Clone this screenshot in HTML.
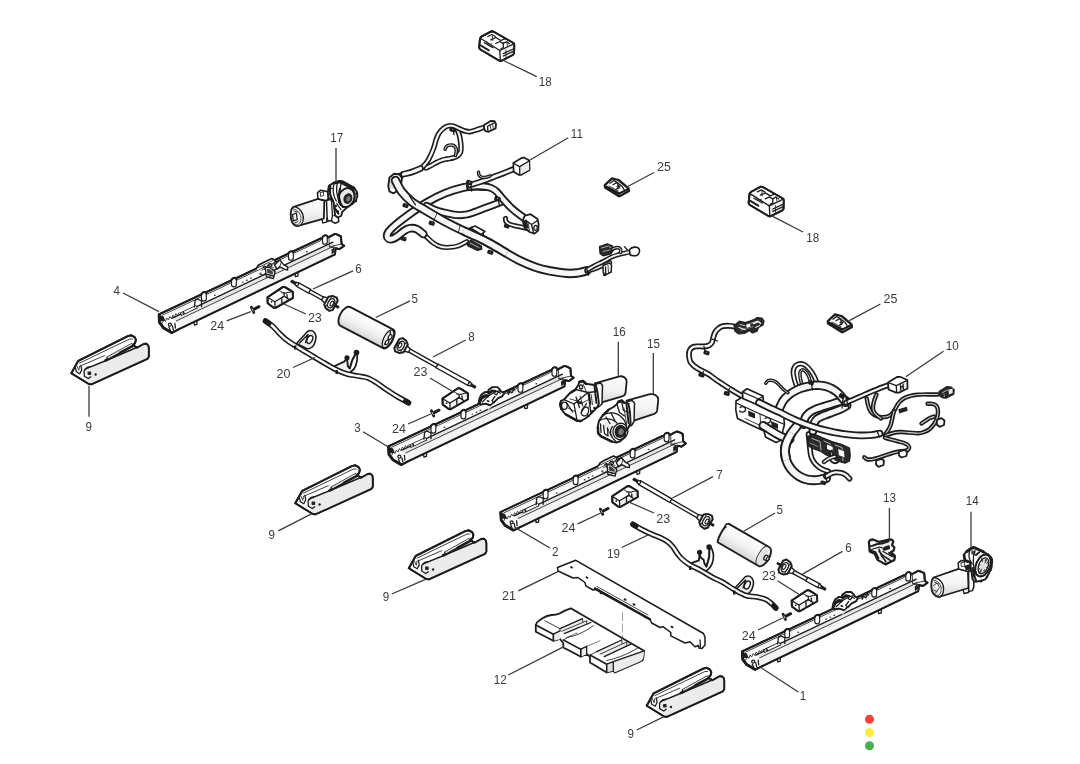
<!DOCTYPE html>
<html><head><meta charset="utf-8"><title>Parts diagram</title>
<style>
html,body{margin:0;padding:0;background:#fff;}
body{width:1080px;height:764px;overflow:hidden;font-family:"Liberation Sans",sans-serif;}
svg{display:block;will-change:transform;}
.o{fill:#fff;stroke:#1c1c1c;stroke-width:1.9;stroke-linejoin:round;stroke-linecap:round;}
.og{fill:#ececec;stroke:#1c1c1c;stroke-width:1.9;stroke-linejoin:round;stroke-linecap:round;}
.od{fill:#2a2a2a;stroke:#1c1c1c;stroke-width:1.2;stroke-linejoin:round;}
.m{fill:#fff;stroke:#1c1c1c;stroke-width:1.3;stroke-linejoin:round;stroke-linecap:round;}
.mg{fill:#e9e9e9;stroke:#1c1c1c;stroke-width:1.3;stroke-linejoin:round;stroke-linecap:round;}
.t{fill:none;stroke:#2b2b2b;stroke-width:0.9;stroke-linejoin:round;stroke-linecap:round;}
.tk{fill:none;stroke:#1c1c1c;stroke-width:1.9;stroke-linejoin:round;stroke-linecap:round;}
.tm{fill:none;stroke:#1c1c1c;stroke-width:1.3;stroke-linejoin:round;stroke-linecap:round;}
.g{fill:#ebebeb;stroke:none;}
.g2{fill:#dedede;stroke:none;}
.d{fill:#222;stroke:none;}
.ld{stroke:#3a3a3a;stroke-width:1.3;}
.lb{fill:#3a3a3a;font-family:"Liberation Sans",sans-serif;}
</style></head><body>
<svg width="1080" height="764" viewBox="0 0 1080 764">
<defs>
<linearGradient id="cg" x1="0" y1="0" x2="0" y2="1"><stop offset="0" stop-color="#fff"/><stop offset="0.55" stop-color="#f2f2f2"/><stop offset="1" stop-color="#d6d6d6"/></linearGradient>
<filter id="soft" x="0" y="0" width="100%" height="100%" filterUnits="userSpaceOnUse"><feGaussianBlur stdDeviation="0.38"/></filter>
<linearGradient id="cg2" x1="0" y1="0" x2="1" y2="1"><stop offset="0" stop-color="#fff"/><stop offset="0.6" stop-color="#f6f6f6"/><stop offset="1" stop-color="#cfcfcf"/></linearGradient>
</defs>
<rect width="1080" height="764" fill="#fff"/>
<g filter="url(#soft)">
<g>
<polygon points="158.9,314.4 320.9,238.3 322.4,239.2 328.9,237.1 334.9,233.9 337.4,234.6 340.9,236.3 341.6,243.9 344.2,245.8 339.6,249.1 335.7,248.1 334.9,254.3 179.9,328.7 171.9,332.8 163.4,327.9 159.4,322.5" class="o" />
<polygon points="172.4,318.2 332.9,242.2 334.4,245.8 176.4,320.9" class="g"  style="fill:#e6e6e6"/>
<polygon points="176.4,320.9 334.4,245.8 334.9,254.1 179.9,328.5" class="g"  style="fill:#f3f3f3"/>
<polygon points="162.9,315.1 320.9,240.7 320.9,243.0 164.9,317.0" class="g"  style="opacity:0.45"/>
<polygon points="158.9,314.4 320.9,238.3 322.4,239.2 328.9,237.1 334.9,233.9 337.4,234.6 340.9,236.3 341.6,243.9 344.2,245.8 339.6,249.1 335.7,248.1 334.9,254.3 179.9,328.7 171.9,332.8 163.4,327.9 159.4,322.5" class="tk" />
<polyline points="161.9,315.4 320.9,240.5" class="t" />
<polyline points="172.4,318.2 332.9,242.2" class="tm" />
<polyline points="176.4,320.9 334.4,245.8" class="t" />
<polyline points="328.9,237.1 329.4,246.9 335.7,248.1" class="t" />
<polyline points="329.4,246.9 341.6,243.9" class="t" />
<polygon points="331.4,249.7 334.4,246.9 334.7,251.9 331.7,254.3" class="d" />
<polyline points="159.1,314.8 159.5,322.4 163.4,327.7 171.4,332.4" class="tk"  style="stroke-width:2.9"/>
<polygon points="159.7,315.5 163.4,316.3 165.4,320.8 161.9,321.2 159.9,320.9" class="d" />
<polyline points="159.7,315.5 161.4,319.2 163.9,320.5" class="tm" />
<polyline points="162.4,323.0 163.9,319.6 165.4,321.5 166.9,318.1 168.4,320.0 169.9,316.6 171.4,318.5 172.9,315.1 174.4,317.0 175.9,313.6 177.4,315.4 178.9,312.9" class="t" />
<line x1="180.4" y1="314.4" x2="196.9" y2="306.6" stroke="#1c1c1c" stroke-width="3.8" stroke-linecap="butt"/>
<line x1="184.4" y1="312.5" x2="196.2" y2="306.9" stroke="#fff" stroke-width="2.1" stroke-linecap="butt"/>
<ellipse cx="182.2" cy="313.6" rx="1" ry="1.5" fill="#bbb"/>
<polyline points="194.4,307.1 195.1,300.5 197.1,299.0 201.5,300.8 201.5,306.7" class="tm" />
<polyline points="168.9,327.1 170.4,330.4" class="tm" />
<polyline points="172.4,325.8 173.4,330.0" class="tm" />
<polyline points="174.9,323.3 175.4,328.0" class="tm" />
<circle cx="169.9" cy="324.7" r="1.5" class="tm"/>
<polyline points="193.9,322.0 194.4,325.0 196.9,324.4 197.1,320.8" class="tm" />
<polyline points="294.9,273.7 295.4,276.7 297.9,276.1 298.1,272.5" class="tm" />
<rect x="201.5" y="292.1" width="4.8" height="9" rx="2.3" class="m" style="stroke-width:1.15"/>
<path d="M201.3,294.4 Q203.9,290.4 206.5,293.1" class="tk" style="stroke-width:2"/>
<rect x="231.5" y="277.9" width="4.8" height="9" rx="2.3" class="m" style="stroke-width:1.15"/>
<path d="M231.3,280.3 Q233.9,276.3 236.5,278.9" class="tk" style="stroke-width:2"/>
<rect x="288.5" y="251.2" width="4.8" height="9" rx="2.3" class="m" style="stroke-width:1.15"/>
<path d="M288.3,253.6 Q290.9,249.6 293.5,252.2" class="tk" style="stroke-width:2"/>
<rect x="322.5" y="235.2" width="4.8" height="9" rx="2.3" class="m" style="stroke-width:1.15"/>
<path d="M322.3,237.6 Q324.9,233.6 327.5,236.2" class="tk" style="stroke-width:2"/>
<ellipse cx="214.9" cy="295.3" rx="1" ry="0.7" fill="#333"/>
<ellipse cx="242.9" cy="282.1" rx="1" ry="0.7" fill="#333"/>
<ellipse cx="246.9" cy="280.2" rx="1" ry="0.7" fill="#333"/>
<ellipse cx="250.9" cy="278.3" rx="1" ry="0.7" fill="#333"/>
<ellipse cx="306.9" cy="251.8" rx="1" ry="0.7" fill="#333"/>
<polygon points="255.9,269.1 258.4,265.3 262.9,262.7 271.9,258.5 274.9,260.2" class="o"  style="stroke-width:1.7"/>
<polyline points="257.4,269.1 273.9,261.3" class="t"  style="stroke:#fff;stroke-width:1.6"/>
<path d="M262.9,267.6 q1.5,-2.6 3.4,-0.6 q1.6,2.2 -1.4,2.4 M267.9,265.0 q1.8,-2.6 3.6,-0.4 q1,2.4 -2,2.2 M274.4,262.2 q2,-2 3.6,0 q0.6,2 -2,2" class="tm" />
<polyline points="261.9,270.2 270.9,264.8 278.9,261.8" class="t" />
<polygon points="265.3,267.3 269.4,267.3 275.1,271.6 273.9,276.0 266.0,274.1" class="m"  style="stroke-width:1.4"/>
<polygon points="266.9,269.0 269.1,268.7 273.3,272.1 272.5,274.4 267.3,272.9" class="d"  style="opacity:0.85"/>
<polyline points="266.0,274.1 266.2,276.8 273.5,278.5 273.9,276.0" class="tm" />
<polygon points="274.5,264.9 279.7,259.9 283.6,264.6 287.5,266.9 287.6,270.1 284.4,269.2 279.7,266.8 276.9,269.1" class="m"  style="stroke-width:1.4"/>
<polyline points="279.7,266.8 281.4,262.1" class="t" />
<ellipse cx="272.4" cy="267.8" rx="1.6" ry="1" fill="#888"/>
<polyline points="259.9,274.2 262.9,274.8 265.4,273.2" class="t" />
<ellipse cx="260.5" cy="273.4" rx="1.2" ry="0.8" fill="#555"/>
</g>
<g>
<polygon points="388.4,446.4 550.4,370.3 551.9,371.2 558.4,369.1 564.4,365.9 566.9,366.6 570.4,368.3 571.1,375.9 573.7,377.8 569.1,381.1 565.2,380.1 564.4,386.3 409.4,460.7 401.4,464.8 392.9,459.9 388.9,454.5" class="o" />
<polygon points="401.9,450.2 562.4,374.2 563.9,377.8 405.9,452.9" class="g"  style="fill:#e6e6e6"/>
<polygon points="405.9,452.9 563.9,377.8 564.4,386.1 409.4,460.5" class="g"  style="fill:#f3f3f3"/>
<polygon points="392.4,447.1 550.4,372.7 550.4,375.0 394.4,449.0" class="g"  style="opacity:0.45"/>
<polygon points="388.4,446.4 550.4,370.3 551.9,371.2 558.4,369.1 564.4,365.9 566.9,366.6 570.4,368.3 571.1,375.9 573.7,377.8 569.1,381.1 565.2,380.1 564.4,386.3 409.4,460.7 401.4,464.8 392.9,459.9 388.9,454.5" class="tk" />
<polyline points="391.4,447.4 550.4,372.5" class="t" />
<polyline points="401.9,450.2 562.4,374.2" class="tm" />
<polyline points="405.9,452.9 563.9,377.8" class="t" />
<polyline points="558.4,369.1 558.9,378.9 565.2,380.1" class="t" />
<polyline points="558.9,378.9 571.1,375.9" class="t" />
<polygon points="560.9,381.7 563.9,378.9 564.2,383.9 561.2,386.3" class="d" />
<polyline points="388.6,446.8 389.0,454.4 392.9,459.7 400.9,464.4" class="tk"  style="stroke-width:2.9"/>
<polygon points="389.2,447.5 392.9,448.3 394.9,452.8 391.4,453.2 389.4,452.9" class="d" />
<polyline points="389.2,447.5 390.9,451.2 393.4,452.5" class="tm" />
<polyline points="391.9,455.0 393.4,451.6 394.9,453.5 396.4,450.1 397.9,452.0 399.4,448.6 400.9,450.5 402.4,447.1 403.9,449.0 405.4,445.6 406.9,447.4 408.4,444.9" class="t" />
<line x1="409.9" y1="446.4" x2="426.4" y2="438.6" stroke="#1c1c1c" stroke-width="3.8" stroke-linecap="butt"/>
<line x1="413.9" y1="444.5" x2="425.7" y2="438.9" stroke="#fff" stroke-width="2.1" stroke-linecap="butt"/>
<ellipse cx="411.7" cy="445.6" rx="1" ry="1.5" fill="#bbb"/>
<polyline points="423.9,439.1 424.6,432.5 426.6,431.0 431.0,432.8 431.0,438.7" class="tm" />
<polyline points="398.4,459.1 399.9,462.4" class="tm" />
<polyline points="401.9,457.8 402.9,462.0" class="tm" />
<polyline points="404.4,455.3 404.9,460.0" class="tm" />
<circle cx="399.4" cy="456.7" r="1.5" class="tm"/>
<polyline points="423.4,454.0 423.9,457.0 426.4,456.4 426.6,452.8" class="tm" />
<polyline points="524.4,405.7 524.9,408.7 527.4,408.1 527.6,404.5" class="tm" />
<rect x="431.0" y="424.1" width="4.8" height="9" rx="2.3" class="m" style="stroke-width:1.15"/>
<path d="M430.8,426.4 Q433.4,422.4 436.0,425.1" class="tk" style="stroke-width:2"/>
<rect x="461.0" y="409.9" width="4.8" height="9" rx="2.3" class="m" style="stroke-width:1.15"/>
<path d="M460.8,412.3 Q463.4,408.3 466.0,410.9" class="tk" style="stroke-width:2"/>
<rect x="518.0" y="383.2" width="4.8" height="9" rx="2.3" class="m" style="stroke-width:1.15"/>
<path d="M517.8,385.6 Q520.4,381.6 523.0,384.2" class="tk" style="stroke-width:2"/>
<rect x="552.0" y="367.2" width="4.8" height="9" rx="2.3" class="m" style="stroke-width:1.15"/>
<path d="M551.8,369.6 Q554.4,365.6 557.0,368.2" class="tk" style="stroke-width:2"/>
<ellipse cx="444.4" cy="427.3" rx="1" ry="0.7" fill="#333"/>
<ellipse cx="472.4" cy="414.1" rx="1" ry="0.7" fill="#333"/>
<ellipse cx="476.4" cy="412.2" rx="1" ry="0.7" fill="#333"/>
<ellipse cx="480.4" cy="410.3" rx="1" ry="0.7" fill="#333"/>
<ellipse cx="536.4" cy="383.8" rx="1" ry="0.7" fill="#333"/>
<polygon points="478.7,403.0 479.6,398.2 481.4,394.6 485.1,392.0 487.8,392.2 488.6,389.7 492.4,387.1 497.4,387.1 500.0,389.7 501.4,391.9 504.4,392.2 502.4,396.2 497.9,398.4 490.9,405.5 485.4,403.7 481.4,404.4" class="o" />
<polyline points="479.7,401.4 481.4,398.1 484.9,395.8 487.6,395.9" class="tk"  style="stroke-width:3.2"/>
<polyline points="488.9,393.2 491.9,390.8 494.9,391.2" class="tk"  style="stroke-width:2.8"/>
<polyline points="482.4,402.0 488.4,395.9 495.4,391.8" class="tm" />
<polyline points="484.9,403.6 490.8,405.4 493.4,401.7 491.9,400.6 494.9,396.5" class="tm" />
<polyline points="487.4,400.8 488.9,401.5" class="tk"  style="stroke-width:1.6"/>
<polygon points="487.4,408.7 493.9,403.0 494.9,404.0 488.4,409.8" class="g2" />
<polyline points="494.4,393.7 496.4,394.9 498.4,392.2 500.4,393.3" class="tm" />
<polyline points="495.9,391.5 499.4,391.0" class="tm" />
<polyline points="507.4,393.0 509.4,389.9 513.4,388.8 514.9,390.0" class="tm" />
<polyline points="508.4,394.4 509.9,391.4 511.9,392.9 513.4,390.5" class="tm" />
<polygon points="511.4,394.3 515.9,390.7 516.4,391.8 512.4,395.2" class="g2" />
</g>
<g>
<polygon points="500.6,512.0 662.6,435.9 664.1,436.8 670.6,434.7 676.6,431.5 679.1,432.2 682.6,433.9 683.3,441.5 685.9,443.4 681.3,446.7 677.4,445.7 676.6,451.9 521.6,526.3 513.6,530.4 505.1,525.5 501.1,520.1" class="o" />
<polygon points="514.1,515.8 674.6,439.8 676.1,443.4 518.1,518.5" class="g"  style="fill:#e6e6e6"/>
<polygon points="518.1,518.5 676.1,443.4 676.6,451.7 521.6,526.1" class="g"  style="fill:#f3f3f3"/>
<polygon points="504.6,512.7 662.6,438.3 662.6,440.6 506.6,514.6" class="g"  style="opacity:0.45"/>
<polygon points="500.6,512.0 662.6,435.9 664.1,436.8 670.6,434.7 676.6,431.5 679.1,432.2 682.6,433.9 683.3,441.5 685.9,443.4 681.3,446.7 677.4,445.7 676.6,451.9 521.6,526.3 513.6,530.4 505.1,525.5 501.1,520.1" class="tk" />
<polyline points="503.6,513.0 662.6,438.1" class="t" />
<polyline points="514.1,515.8 674.6,439.8" class="tm" />
<polyline points="518.1,518.5 676.1,443.4" class="t" />
<polyline points="670.6,434.7 671.1,444.5 677.4,445.7" class="t" />
<polyline points="671.1,444.5 683.3,441.5" class="t" />
<polygon points="673.1,447.3 676.1,444.5 676.4,449.5 673.4,451.9" class="d" />
<polyline points="500.8,512.4 501.2,520.0 505.1,525.3 513.1,530.0" class="tk"  style="stroke-width:2.9"/>
<polygon points="501.4,513.1 505.1,513.9 507.1,518.4 503.6,518.8 501.6,518.5" class="d" />
<polyline points="501.4,513.1 503.1,516.8 505.6,518.1" class="tm" />
<polyline points="504.1,520.6 505.6,517.2 507.1,519.1 508.6,515.7 510.1,517.6 511.6,514.2 513.1,516.1 514.6,512.7 516.1,514.6 517.6,511.2 519.1,513.0 520.6,510.5" class="t" />
<line x1="522.1" y1="512.0" x2="538.6" y2="504.2" stroke="#1c1c1c" stroke-width="3.8" stroke-linecap="butt"/>
<line x1="526.1" y1="510.1" x2="537.9" y2="504.5" stroke="#fff" stroke-width="2.1" stroke-linecap="butt"/>
<ellipse cx="523.9" cy="511.2" rx="1" ry="1.5" fill="#bbb"/>
<polyline points="536.1,504.7 536.8,498.1 538.8,496.6 543.2,498.4 543.2,504.3" class="tm" />
<polyline points="510.6,524.7 512.1,528.0" class="tm" />
<polyline points="514.1,523.4 515.1,527.6" class="tm" />
<polyline points="516.6,520.9 517.1,525.6" class="tm" />
<circle cx="511.6" cy="522.3" r="1.5" class="tm"/>
<polyline points="535.6,519.6 536.1,522.6 538.6,522.0 538.8,518.4" class="tm" />
<polyline points="636.6,471.3 637.1,474.3 639.6,473.7 639.8,470.1" class="tm" />
<rect x="543.2" y="489.7" width="4.8" height="9" rx="2.3" class="m" style="stroke-width:1.15"/>
<path d="M543.0,492.1 Q545.6,488.1 548.2,490.7" class="tk" style="stroke-width:2"/>
<rect x="573.2" y="475.6" width="4.8" height="9" rx="2.3" class="m" style="stroke-width:1.15"/>
<path d="M573.0,477.9 Q575.6,473.9 578.2,476.6" class="tk" style="stroke-width:2"/>
<rect x="630.2" y="448.8" width="4.8" height="9" rx="2.3" class="m" style="stroke-width:1.15"/>
<path d="M630.0,451.2 Q632.6,447.2 635.2,449.8" class="tk" style="stroke-width:2"/>
<rect x="664.2" y="432.8" width="4.8" height="9" rx="2.3" class="m" style="stroke-width:1.15"/>
<path d="M664.0,435.2 Q666.6,431.2 669.2,433.8" class="tk" style="stroke-width:2"/>
<ellipse cx="556.6" cy="492.9" rx="1" ry="0.7" fill="#333"/>
<ellipse cx="584.6" cy="479.7" rx="1" ry="0.7" fill="#333"/>
<ellipse cx="588.6" cy="477.8" rx="1" ry="0.7" fill="#333"/>
<ellipse cx="592.6" cy="475.9" rx="1" ry="0.7" fill="#333"/>
<ellipse cx="648.6" cy="449.4" rx="1" ry="0.7" fill="#333"/>
<polygon points="597.6,466.7 600.1,462.9 604.6,460.3 613.6,456.1 616.6,457.8" class="o"  style="stroke-width:1.7"/>
<polyline points="599.1,466.7 615.6,458.9" class="t"  style="stroke:#fff;stroke-width:1.6"/>
<path d="M604.6,465.2 q1.5,-2.6 3.4,-0.6 q1.6,2.2 -1.4,2.4 M609.6,462.6 q1.8,-2.6 3.6,-0.4 q1,2.4 -2,2.2 M616.1,459.8 q2,-2 3.6,0 q0.6,2 -2,2" class="tm" />
<polyline points="603.6,467.8 612.6,462.4 620.6,459.4" class="t" />
<polygon points="607.0,464.9 611.1,464.9 616.8,469.2 615.6,473.6 607.7,471.7" class="m"  style="stroke-width:1.4"/>
<polygon points="608.6,466.6 610.8,466.3 615.0,469.7 614.2,472.0 609.0,470.5" class="d"  style="opacity:0.85"/>
<polyline points="607.7,471.7 607.9,474.4 615.2,476.1 615.6,473.6" class="tm" />
<polygon points="616.2,462.5 621.4,457.5 625.3,462.2 629.2,464.5 629.3,467.7 626.1,466.8 621.4,464.4 618.6,466.7" class="m"  style="stroke-width:1.4"/>
<polyline points="621.4,464.4 623.1,459.7" class="t" />
<ellipse cx="614.1" cy="465.4" rx="1.6" ry="1" fill="#888"/>
<polyline points="601.6,471.8 604.6,472.4 607.1,470.8" class="t" />
<ellipse cx="602.2" cy="471.0" rx="1.2" ry="0.8" fill="#555"/>
</g>
<g>
<polygon points="742.2,651.3 904.2,575.2 905.7,576.1 912.2,574.0 918.2,570.8 920.7,571.5 924.2,573.2 924.9,580.8 927.5,582.7 922.9,586.0 919.0,585.0 918.2,591.2 763.2,665.6 755.2,669.7 746.7,664.8 742.7,659.4" class="o" />
<polygon points="755.7,655.1 916.2,579.1 917.7,582.7 759.7,657.8" class="g"  style="fill:#e6e6e6"/>
<polygon points="759.7,657.8 917.7,582.7 918.2,591.0 763.2,665.4" class="g"  style="fill:#f3f3f3"/>
<polygon points="746.2,652.0 904.2,577.6 904.2,579.9 748.2,653.9" class="g"  style="opacity:0.45"/>
<polygon points="742.2,651.3 904.2,575.2 905.7,576.1 912.2,574.0 918.2,570.8 920.7,571.5 924.2,573.2 924.9,580.8 927.5,582.7 922.9,586.0 919.0,585.0 918.2,591.2 763.2,665.6 755.2,669.7 746.7,664.8 742.7,659.4" class="tk" />
<polyline points="745.2,652.3 904.2,577.4" class="t" />
<polyline points="755.7,655.1 916.2,579.1" class="tm" />
<polyline points="759.7,657.8 917.7,582.7" class="t" />
<polyline points="912.2,574.0 912.7,583.8 919.0,585.0" class="t" />
<polyline points="912.7,583.8 924.9,580.8" class="t" />
<polygon points="914.7,586.6 917.7,583.8 918.0,588.8 915.0,591.2" class="d" />
<polyline points="742.4,651.7 742.8,659.3 746.7,664.6 754.7,669.3" class="tk"  style="stroke-width:2.9"/>
<polygon points="743.0,652.4 746.7,653.2 748.7,657.7 745.2,658.1 743.2,657.8" class="d" />
<polyline points="743.0,652.4 744.7,656.1 747.2,657.4" class="tm" />
<polyline points="745.7,659.9 747.2,656.5 748.7,658.4 750.2,655.0 751.7,656.9 753.2,653.5 754.7,655.4 756.2,652.0 757.7,653.9 759.2,650.5 760.7,652.3 762.2,649.8" class="t" />
<line x1="763.7" y1="651.3" x2="780.2" y2="643.5" stroke="#1c1c1c" stroke-width="3.8" stroke-linecap="butt"/>
<line x1="767.7" y1="649.4" x2="779.5" y2="643.8" stroke="#fff" stroke-width="2.1" stroke-linecap="butt"/>
<ellipse cx="765.5" cy="650.5" rx="1" ry="1.5" fill="#bbb"/>
<polyline points="777.7,644.0 778.4,637.4 780.4,635.9 784.8,637.7 784.8,643.6" class="tm" />
<polyline points="752.2,664.0 753.7,667.3" class="tm" />
<polyline points="755.7,662.7 756.7,666.9" class="tm" />
<polyline points="758.2,660.2 758.7,664.9" class="tm" />
<circle cx="753.2" cy="661.6" r="1.5" class="tm"/>
<polyline points="777.2,658.9 777.7,661.9 780.2,661.3 780.4,657.7" class="tm" />
<polyline points="878.2,610.6 878.7,613.6 881.2,613.0 881.4,609.4" class="tm" />
<rect x="784.8" y="628.9" width="4.8" height="9" rx="2.3" class="m" style="stroke-width:1.15"/>
<path d="M784.6,631.4 Q787.2,627.4 789.8,629.9" class="tk" style="stroke-width:2"/>
<rect x="814.8" y="614.8" width="4.8" height="9" rx="2.3" class="m" style="stroke-width:1.15"/>
<path d="M814.6,617.2 Q817.2,613.2 819.8,615.8" class="tk" style="stroke-width:2"/>
<rect x="871.8" y="588.1" width="4.8" height="9" rx="2.3" class="m" style="stroke-width:1.15"/>
<path d="M871.6,590.5 Q874.2,586.5 876.8,589.1" class="tk" style="stroke-width:2"/>
<rect x="905.8" y="572.1" width="4.8" height="9" rx="2.3" class="m" style="stroke-width:1.15"/>
<path d="M905.6,574.5 Q908.2,570.5 910.8,573.1" class="tk" style="stroke-width:2"/>
<ellipse cx="798.2" cy="632.2" rx="1" ry="0.7" fill="#333"/>
<ellipse cx="826.2" cy="619.0" rx="1" ry="0.7" fill="#333"/>
<ellipse cx="830.2" cy="617.1" rx="1" ry="0.7" fill="#333"/>
<ellipse cx="834.2" cy="615.2" rx="1" ry="0.7" fill="#333"/>
<ellipse cx="890.2" cy="588.7" rx="1" ry="0.7" fill="#333"/>
<polygon points="832.5,607.9 833.4,603.1 835.2,599.5 838.9,596.9 841.6,597.1 842.4,594.6 846.2,592.0 851.2,592.0 853.8,594.6 855.2,596.8 858.2,597.1 856.2,601.1 851.7,603.3 844.7,610.4 839.2,608.6 835.2,609.3" class="o" />
<polyline points="833.5,606.3 835.2,603.0 838.7,600.7 841.4,600.8" class="tk"  style="stroke-width:3.2"/>
<polyline points="842.7,598.1 845.7,595.7 848.7,596.1" class="tk"  style="stroke-width:2.8"/>
<polyline points="836.2,606.9 842.2,600.8 849.2,596.7" class="tm" />
<polyline points="838.7,608.5 844.6,610.3 847.2,606.6 845.7,605.5 848.7,601.4" class="tm" />
<polyline points="841.2,605.7 842.7,606.4" class="tk"  style="stroke-width:1.6"/>
<polygon points="841.2,613.6 847.7,607.9 848.7,608.9 842.2,614.7" class="g2" />
<polyline points="848.2,598.6 850.2,599.8 852.2,597.1 854.2,598.2" class="tm" />
<polyline points="849.7,596.4 853.2,595.9" class="tm" />
<polyline points="861.2,597.9 863.2,594.8 867.2,593.7 868.7,594.9" class="tm" />
<polyline points="862.2,599.3 863.7,596.3 865.7,597.8 867.2,595.4" class="tm" />
<polygon points="865.2,599.2 869.7,595.6 870.2,596.7 866.2,600.1" class="g2" />
</g>
<polygon points="71.3,373.3 78.3,360.8 127.8,336.1 131.3,335.3 134.6,337.1 135.9,339.7 135.1,343.1 132.8,344.7 136.8,347.8 143.8,344.0 146.3,343.7 148.3,345.7 148.8,348.3 148.8,356.8 147.3,358.9 91.8,384.2 88.8,384.0" class="o" />
<polygon points="84.8,369.3 143.8,344.3 146.3,343.9 148.3,345.8 148.6,356.8 147.3,358.7 91.8,383.9 85.3,379.8" class="g" />
<polygon points="71.3,373.3 78.3,360.8 127.8,336.1 131.3,335.3 134.6,337.1 135.9,339.7 135.1,343.1 132.8,344.7 136.8,347.8 143.8,344.0 146.3,343.7 148.3,345.7 148.8,348.3 148.8,356.8 147.3,358.9 91.8,384.2 88.8,384.0" class="tk" />
<polyline points="79.5,363.1 129.3,339.1 132.3,339.0" class="t" />
<polyline points="81.1,365.7 104.3,355.7" class="t" />
<polyline points="85.1,369.1 105.5,360.7 137.3,347.3" class="tk"  style="stroke-width:1.5"/>
<polyline points="105.5,360.5 133.4,345.7" class="tk"  style="stroke-width:2.6"/>
<polyline points="108.3,357.9 118.8,352.1" class="t"  style="stroke:#fff;stroke-width:0.9"/>
<polyline points="106.8,357.1 131.8,343.3" class="t" />
<polyline points="107.3,357.7 107.6,359.5" class="tm" />
<polyline points="84.5,370.3 87.3,367.3 90.3,366.7" class="tm" />
<polyline points="75.3,366.8 76.3,371.8 79.8,373.7 81.8,369.8 80.8,365.3" class="tm" />
<polyline points="76.8,365.8 78.8,370.3 79.5,366.1" class="t" />
<polyline points="84.1,370.8 84.3,376.3 88.3,378.5 90.8,376.8" class="tm" />
<rect x="87.6" y="371.5" width="3.6" height="3.6" rx="0.8" fill="#222"/>
<circle cx="95.6" cy="374.5" r="1.2" fill="#222"/>
<polygon points="295.3,503.3 302.3,490.8 351.8,466.1 355.3,465.3 358.6,467.1 359.9,469.7 359.1,473.1 356.8,474.7 360.8,477.8 367.8,474.0 370.3,473.7 372.3,475.7 372.8,478.3 372.8,486.8 371.3,488.9 315.8,514.2 312.8,514.0" class="o" />
<polygon points="308.8,499.3 367.8,474.3 370.3,473.9 372.3,475.8 372.6,486.8 371.3,488.7 315.8,513.9 309.3,509.8" class="g" />
<polygon points="295.3,503.3 302.3,490.8 351.8,466.1 355.3,465.3 358.6,467.1 359.9,469.7 359.1,473.1 356.8,474.7 360.8,477.8 367.8,474.0 370.3,473.7 372.3,475.7 372.8,478.3 372.8,486.8 371.3,488.9 315.8,514.2 312.8,514.0" class="tk" />
<polyline points="303.5,493.1 353.3,469.1 356.3,469.0" class="t" />
<polyline points="305.1,495.7 328.3,485.7" class="t" />
<polyline points="309.1,499.1 329.5,490.7 361.3,477.3" class="tk"  style="stroke-width:1.5"/>
<polyline points="329.5,490.5 357.4,475.7" class="tk"  style="stroke-width:2.6"/>
<polyline points="332.3,487.9 342.8,482.1" class="t"  style="stroke:#fff;stroke-width:0.9"/>
<polyline points="330.8,487.1 355.8,473.3" class="t" />
<polyline points="331.3,487.7 331.6,489.5" class="tm" />
<polyline points="308.5,500.3 311.3,497.3 314.3,496.7" class="tm" />
<polyline points="299.3,496.8 300.3,501.8 303.8,503.7 305.8,499.8 304.8,495.3" class="tm" />
<polyline points="300.8,495.8 302.8,500.3 303.5,496.1" class="t" />
<polyline points="308.1,500.8 308.3,506.3 312.3,508.5 314.8,506.8" class="tm" />
<rect x="311.6" y="501.5" width="3.6" height="3.6" rx="0.8" fill="#222"/>
<circle cx="319.6" cy="504.5" r="1.2" fill="#222"/>
<polygon points="408.8,568.3 415.8,555.8 465.3,531.1 468.8,530.3 472.1,532.1 473.4,534.7 472.6,538.1 470.3,539.7 474.3,542.8 481.3,539.0 483.8,538.7 485.8,540.7 486.3,543.3 486.3,551.8 484.8,553.9 429.3,579.2 426.3,579.0" class="o" />
<polygon points="422.3,564.3 481.3,539.3 483.8,538.9 485.8,540.8 486.1,551.8 484.8,553.7 429.3,578.9 422.8,574.8" class="g" />
<polygon points="408.8,568.3 415.8,555.8 465.3,531.1 468.8,530.3 472.1,532.1 473.4,534.7 472.6,538.1 470.3,539.7 474.3,542.8 481.3,539.0 483.8,538.7 485.8,540.7 486.3,543.3 486.3,551.8 484.8,553.9 429.3,579.2 426.3,579.0" class="tk" />
<polyline points="417.0,558.1 466.8,534.1 469.8,534.0" class="t" />
<polyline points="418.6,560.7 441.8,550.7" class="t" />
<polyline points="422.6,564.1 443.0,555.7 474.8,542.3" class="tk"  style="stroke-width:1.5"/>
<polyline points="443.0,555.5 470.9,540.7" class="tk"  style="stroke-width:2.6"/>
<polyline points="445.8,552.9 456.3,547.1" class="t"  style="stroke:#fff;stroke-width:0.9"/>
<polyline points="444.3,552.1 469.3,538.3" class="t" />
<polyline points="444.8,552.7 445.1,554.5" class="tm" />
<polyline points="422.0,565.3 424.8,562.3 427.8,561.7" class="tm" />
<polyline points="412.8,561.8 413.8,566.8 417.3,568.7 419.3,564.8 418.3,560.3" class="tm" />
<polyline points="414.3,560.8 416.3,565.3 417.0,561.1" class="t" />
<polyline points="421.6,565.8 421.8,571.3 425.8,573.5 428.3,571.8" class="tm" />
<rect x="425.1" y="566.5" width="3.6" height="3.6" rx="0.8" fill="#222"/>
<circle cx="433.1" cy="569.5" r="1.2" fill="#222"/>
<polygon points="646.7,705.8 653.7,693.3 703.2,668.6 706.7,667.8 710.0,669.6 711.3,672.2 710.5,675.6 708.2,677.2 712.2,680.3 719.2,676.5 721.7,676.2 723.7,678.2 724.2,680.8 724.2,689.3 722.7,691.4 667.2,716.7 664.2,716.5" class="o" />
<polygon points="660.2,701.8 719.2,676.8 721.7,676.4 723.7,678.3 724.0,689.3 722.7,691.2 667.2,716.4 660.7,712.3" class="g" />
<polygon points="646.7,705.8 653.7,693.3 703.2,668.6 706.7,667.8 710.0,669.6 711.3,672.2 710.5,675.6 708.2,677.2 712.2,680.3 719.2,676.5 721.7,676.2 723.7,678.2 724.2,680.8 724.2,689.3 722.7,691.4 667.2,716.7 664.2,716.5" class="tk" />
<polyline points="654.9,695.6 704.7,671.6 707.7,671.5" class="t" />
<polyline points="656.5,698.2 679.7,688.2" class="t" />
<polyline points="660.5,701.6 680.9,693.2 712.7,679.8" class="tk"  style="stroke-width:1.5"/>
<polyline points="680.9,693.0 708.8,678.2" class="tk"  style="stroke-width:2.6"/>
<polyline points="683.7,690.4 694.2,684.6" class="t"  style="stroke:#fff;stroke-width:0.9"/>
<polyline points="682.2,689.6 707.2,675.8" class="t" />
<polyline points="682.7,690.2 683.0,692.0" class="tm" />
<polyline points="659.9,702.8 662.7,699.8 665.7,699.2" class="tm" />
<polyline points="650.7,699.3 651.7,704.3 655.2,706.2 657.2,702.3 656.2,697.8" class="tm" />
<polyline points="652.2,698.3 654.2,702.8 654.9,698.6" class="t" />
<polyline points="659.5,703.3 659.7,708.8 663.7,711.0 666.2,709.3" class="tm" />
<rect x="663.0" y="704.0" width="3.6" height="3.6" rx="0.8" fill="#222"/>
<circle cx="671.0" cy="707.0" r="1.2" fill="#222"/>
<polygon points="491.3,31.3 493.8,31.8 513.8,43.3 514.3,45.0 514.0,53.5 512.8,55.0 501.3,60.8 499.3,60.8 480.0,49.3 479.1,47.5 480.1,38.2 481.3,36.6" class="o" />
<polygon points="499.3,51.0 513.3,44.5 513.3,53.5 500.8,60.0" class="g"  style="opacity:0.6"/>
<polygon points="491.3,31.3 493.8,31.8 513.8,43.3 514.3,45.0 514.0,53.5 512.8,55.0 501.3,60.8 499.3,60.8 480.0,49.3 479.1,47.5 480.1,38.2 481.3,36.6" class="tk" />
<polyline points="480.8,38.5 499.8,50.5 513.8,43.8" class="tm" />
<polyline points="499.8,50.5 500.3,60.5" class="tm" />
<polyline points="487.8,36.5 491.8,34.5 495.3,36.5" class="tm" />
<polyline points="490.8,39.8 495.8,37.5 500.8,40.5 504.8,38.8" class="tm" />
<polyline points="495.8,43.5 499.8,41.5 502.8,43.4 506.3,41.8 509.3,43.6" class="tm" />
<polyline points="492.3,36.0 492.8,40.5" class="t" />
<polyline points="503.3,43.2 503.3,47.5 500.8,49.0" class="tm" />
<polyline points="506.8,41.6 507.3,45.5" class="t" />
<polyline points="480.8,45.5 488.8,50.3" class="tk"  style="stroke-width:2"/>
<polyline points="484.3,42.8 492.8,47.6" class="tm" />
<polyline points="486.8,41.5 487.8,45.2 491.8,44.0" class="t" />
<polyline points="503.3,53.6 513.3,49.0" class="tm" />
<polyline points="503.3,56.0 513.3,51.4" class="tm" />
<polyline points="505.8,50.0 506.1,57.5" class="t" />
<polygon points="760.8,186.7 763.3,187.2 783.3,198.7 783.8,200.4 783.5,208.9 782.3,210.4 770.8,216.2 768.8,216.2 749.5,204.7 748.6,202.9 749.6,193.6 750.8,192.0" class="o" />
<polygon points="768.8,206.4 782.8,199.9 782.8,208.9 770.3,215.4" class="g"  style="opacity:0.6"/>
<polygon points="760.8,186.7 763.3,187.2 783.3,198.7 783.8,200.4 783.5,208.9 782.3,210.4 770.8,216.2 768.8,216.2 749.5,204.7 748.6,202.9 749.6,193.6 750.8,192.0" class="tk" />
<polyline points="750.3,193.9 769.3,205.9 783.3,199.2" class="tm" />
<polyline points="769.3,205.9 769.8,215.9" class="tm" />
<polyline points="757.3,191.9 761.3,189.9 764.8,191.9" class="tm" />
<polyline points="760.3,195.2 765.3,192.9 770.3,195.9 774.3,194.2" class="tm" />
<polyline points="765.3,198.9 769.3,196.9 772.3,198.8 775.8,197.2 778.8,199.0" class="tm" />
<polyline points="761.8,191.4 762.3,195.9" class="t" />
<polyline points="772.8,198.6 772.8,202.9 770.3,204.4" class="tm" />
<polyline points="776.3,197.0 776.8,200.9" class="t" />
<polyline points="750.3,200.9 758.3,205.7" class="tk"  style="stroke-width:2"/>
<polyline points="753.8,198.2 762.3,203.0" class="tm" />
<polyline points="756.3,196.9 757.3,200.6 761.3,199.4" class="t" />
<polyline points="772.8,209.0 782.8,204.4" class="tm" />
<polyline points="772.8,211.4 782.8,206.8" class="tm" />
<polyline points="775.3,205.4 775.6,212.9" class="t" />
<polygon points="612.0,178.4 614.5,179.0 618.5,180.0 628.5,188.4 629.0,191.0 620.0,196.0 618.6,196.0 605.0,187.5 604.8,185.2" class="o"  style="stroke-width:2.3"/>
<polyline points="606.5,186.7 619.5,193.4 627.8,189.2" class="tk"  style="stroke-width:2.1"/>
<polyline points="608.0,188.0 619.0,194.0" class="tk"  style="stroke-width:1.6"/>
<polyline points="610.0,183.2 613.5,180.4 617.0,182.4 622.0,186.2 624.0,189.4" class="tm" />
<polyline points="613.0,184.7 617.0,182.4 619.5,187.7 616.5,189.2" class="tm" />
<ellipse cx="618.5" cy="186.5" rx="2" ry="1.5" fill="#333"/>
<polyline points="609.0,186.0 618.0,190.8" class="t" />
<polygon points="835.0,314.4 837.5,315.0 841.5,316.0 851.5,324.4 852.0,327.0 843.0,332.0 841.6,332.0 828.0,323.5 827.8,321.2" class="o"  style="stroke-width:2.3"/>
<polyline points="829.5,322.7 842.5,329.4 850.8,325.2" class="tk"  style="stroke-width:2.1"/>
<polyline points="831.0,324.0 842.0,330.0" class="tk"  style="stroke-width:1.6"/>
<polyline points="833.0,319.2 836.5,316.4 840.0,318.4 845.0,322.2 847.0,325.4" class="tm" />
<polyline points="836.0,320.7 840.0,318.4 842.5,323.7 839.5,325.2" class="tm" />
<ellipse cx="841.5" cy="322.5" rx="2" ry="1.5" fill="#333"/>
<polyline points="832.0,322.0 841.0,326.8" class="t" />
<polygon points="267.5,297.2 283.0,286.9 285.0,287.1 292.8,291.9 293.0,297.9 275.5,307.9 273.7,307.7 267.7,303.2" class="o" />
<polygon points="275.0,301.7 292.5,292.2 292.7,297.7 275.3,307.5" class="g"  style="opacity:0.7"/>
<polygon points="267.5,297.2 283.0,286.9 285.0,287.1 292.8,291.9 293.0,297.9 275.5,307.9 273.7,307.7 267.7,303.2" class="tk" />
<polyline points="267.8,297.5 274.8,301.7 275.1,307.7" class="tm" />
<polyline points="274.8,301.7 284.0,296.3" class="tm" />
<polyline points="278.5,290.2 284.0,293.2 292.3,291.9" class="t" />
<polyline points="284.0,293.2 284.3,296.3 281.7,297.7 281.9,303.5" class="tm" />
<polyline points="284.3,296.3 288.5,299.1" class="tm" />
<polyline points="287.0,294.7 287.2,298.0" class="tm" />
<polyline points="281.5,292.7 286.5,293.3" class="t" />
<circle cx="271.5" cy="301.9" r="0.9" fill="#222"/>
<circle cx="288.0" cy="292.3" r="0.7" fill="#222"/>
<polygon points="442.5,398.5 458.0,388.2 460.0,388.4 467.8,393.2 468.0,399.2 450.5,409.2 448.7,409.0 442.7,404.5" class="o" />
<polygon points="450.0,403.0 467.5,393.5 467.7,399.0 450.3,408.8" class="g"  style="opacity:0.7"/>
<polygon points="442.5,398.5 458.0,388.2 460.0,388.4 467.8,393.2 468.0,399.2 450.5,409.2 448.7,409.0 442.7,404.5" class="tk" />
<polyline points="442.8,398.8 449.8,403.0 450.1,409.0" class="tm" />
<polyline points="449.8,403.0 459.0,397.6" class="tm" />
<polyline points="453.5,391.5 459.0,394.5 467.3,393.2" class="t" />
<polyline points="459.0,394.5 459.3,397.6 456.7,399.0 456.9,404.8" class="tm" />
<polyline points="459.3,397.6 463.5,400.4" class="tm" />
<polyline points="462.0,396.0 462.2,399.3" class="tm" />
<polyline points="456.5,394.0 461.5,394.6" class="t" />
<circle cx="446.5" cy="403.2" r="0.9" fill="#222"/>
<circle cx="463.0" cy="393.6" r="0.7" fill="#222"/>
<polygon points="612.2,496.3 627.7,486.0 629.7,486.2 637.5,491.0 637.7,497.0 620.2,507.0 618.4,506.8 612.4,502.3" class="o" />
<polygon points="619.7,500.8 637.2,491.3 637.4,496.8 620.0,506.6" class="g"  style="opacity:0.7"/>
<polygon points="612.2,496.3 627.7,486.0 629.7,486.2 637.5,491.0 637.7,497.0 620.2,507.0 618.4,506.8 612.4,502.3" class="tk" />
<polyline points="612.5,496.6 619.5,500.8 619.8,506.8" class="tm" />
<polyline points="619.5,500.8 628.7,495.4" class="tm" />
<polyline points="623.2,489.3 628.7,492.3 637.0,491.0" class="t" />
<polyline points="628.7,492.3 629.0,495.4 626.4,496.8 626.6,502.6" class="tm" />
<polyline points="629.0,495.4 633.2,498.2" class="tm" />
<polyline points="631.7,493.8 631.9,497.1" class="tm" />
<polyline points="626.2,491.8 631.2,492.4" class="t" />
<circle cx="616.2" cy="501.0" r="0.9" fill="#222"/>
<circle cx="632.7" cy="491.4" r="0.7" fill="#222"/>
<polygon points="791.7,600.5 807.2,590.2 809.2,590.4 817.0,595.2 817.2,601.2 799.7,611.2 797.9,611.0 791.9,606.5" class="o" />
<polygon points="799.2,605.0 816.7,595.5 816.9,601.0 799.5,610.8" class="g"  style="opacity:0.7"/>
<polygon points="791.7,600.5 807.2,590.2 809.2,590.4 817.0,595.2 817.2,601.2 799.7,611.2 797.9,611.0 791.9,606.5" class="tk" />
<polyline points="792.0,600.8 799.0,605.0 799.3,611.0" class="tm" />
<polyline points="799.0,605.0 808.2,599.6" class="tm" />
<polyline points="802.7,593.5 808.2,596.5 816.5,595.2" class="t" />
<polyline points="808.2,596.5 808.5,599.6 805.9,601.0 806.1,606.8" class="tm" />
<polyline points="808.5,599.6 812.7,602.4" class="tm" />
<polyline points="811.2,598.0 811.4,601.3" class="tm" />
<polyline points="805.7,596.0 810.7,596.6" class="t" />
<circle cx="795.7" cy="605.2" r="0.9" fill="#222"/>
<circle cx="812.2" cy="595.6" r="0.7" fill="#222"/>
<line x1="253.2" y1="309.7" x2="259.0" y2="306.7" stroke="#1c1c1c" stroke-width="3" stroke-linecap="round"/>
<line x1="251.4" y1="307.3" x2="253.8" y2="312.5" stroke="#1c1c1c" stroke-width="2.8" stroke-linecap="round"/>
<line x1="252.2" y1="308.9" x2="253.2" y2="311.1" stroke="#fff" stroke-width="0.7" stroke-linecap="round"/>
<line x1="433.2" y1="413.2" x2="439.0" y2="410.2" stroke="#1c1c1c" stroke-width="3" stroke-linecap="round"/>
<line x1="431.4" y1="410.8" x2="433.8" y2="416.0" stroke="#1c1c1c" stroke-width="2.8" stroke-linecap="round"/>
<line x1="432.2" y1="412.4" x2="433.2" y2="414.6" stroke="#fff" stroke-width="0.7" stroke-linecap="round"/>
<line x1="602.2" y1="511.5" x2="608.0" y2="508.5" stroke="#1c1c1c" stroke-width="3" stroke-linecap="round"/>
<line x1="600.4" y1="509.1" x2="602.8" y2="514.3" stroke="#1c1c1c" stroke-width="2.8" stroke-linecap="round"/>
<line x1="601.2" y1="510.7" x2="602.2" y2="512.9" stroke="#fff" stroke-width="0.7" stroke-linecap="round"/>
<line x1="784.9" y1="616.7" x2="790.7" y2="613.7" stroke="#1c1c1c" stroke-width="3" stroke-linecap="round"/>
<line x1="783.1" y1="614.3" x2="785.5" y2="619.5" stroke="#1c1c1c" stroke-width="2.8" stroke-linecap="round"/>
<line x1="783.9" y1="615.9" x2="784.9" y2="618.1" stroke="#fff" stroke-width="0.7" stroke-linecap="round"/>
<g transform="translate(345.5,316.5) rotate(27.62)">
<path d="M0,-10.6 L48.53091798019073,-10.6 A4.2,10.6 0 0 1 48.53091798019073,10.6 L0,10.6 A5.7,10.6 0 0 1 0,-10.6 Z" class="o" style="fill:url(#cgl);fill:url(#cg)"/>
<ellipse cx="48.0" cy="0" rx="4.2" ry="9.799999999999999" class="mg"/>
<path d="M46.53091798019073,-7.6 C49.53091798019073,-4 50.03091798019073,2 47.53091798019073,6.6" class="tm"/>
<ellipse cx="49.1" cy="-2.5" rx="1.6" ry="2.6" class="m"/>
<ellipse cx="48.7" cy="3.6" rx="1.5" ry="2.4" class="m"/>
</g>
<g transform="translate(723.5,533.2) rotate(30.02)">
<path d="M0,-10.8 L46.774031256670604,-10.8 A5.2,10.8 0 0 1 46.774031256670604,10.8 L0,10.8 A2.2,10.8 0 0 1 0,-10.8 Z" class="o" style="fill:url(#cg)"/>
<path d="M0.5,-10.8 L-2,-9.600000000000001 L-2.2,-6.6000000000000005 L-0.8,-6.200000000000001" class="o" style="stroke-width:1.5"/>
<path d="M43.774031256670604,-10.3 A4.2,10.8 0 0 0 43.774031256670604,10.3" class="t"/>
<ellipse cx="45.8" cy="0.5" rx="3.8" ry="9.3" class="g2" style="opacity:0.8"/>
<rect x="47.3" y="-2.6" width="5" height="5.2" rx="1.8" class="m"/>
<ellipse cx="51.0" cy="0" rx="1.2" ry="2.2" class="m"/>
</g>
<g transform="translate(333.5,304.5) rotate(209.05)">
<rect x="8" y="-1.7" width="20.3" height="3.4" class="m" style="stroke-width:1.3"/>
<rect x="27.3" y="-2.1" width="14.1" height="4.2" class="m" style="stroke-width:1.35"/>
<rect x="40.4" y="-1.5" width="3" height="3" class="m" style="stroke-width:1.2"/>
<rect x="42.9" y="-1.6" width="6" height="3.2" rx="1" fill="#1c1c1c"/>
<path d="M7,-3.4 L12.5,-1.9 L12.5,1.9 L7,3.4 Z" class="m" style="stroke-width:1.4"/>
<rect x="-6.5" y="-1.4" width="5" height="2.8" rx="1" fill="#1c1c1c"/>
<path d="M0.5,-7.6 L5,-7.0 L8.2,-4.3999999999999995 L8.2,4.3999999999999995 L5,7.0 L0.5,7.6 L-2,5.0 L-2,-5.0 Z" class="o" style="stroke-width:2"/>
<ellipse cx="2.6" cy="0" rx="3.2" ry="5.0" class="m" style="stroke-width:1.3"/>
<ellipse cx="1.8" cy="0" rx="1.5" ry="2.5999999999999996" class="m" style="stroke-width:1.1"/>
<line x1="5.6" y1="-6.199999999999999" x2="5.6" y2="6.199999999999999" class="t"/>
</g>
<g transform="translate(398.5,344.5) rotate(29.07)">
<rect x="8" y="-1.7" width="37.0" height="3.4" class="m" style="stroke-width:1.3"/>
<rect x="44.0" y="-2.1" width="37.1" height="4.2" class="m" style="stroke-width:1.35"/>
<rect x="80.1" y="-1.5" width="3" height="3" class="m" style="stroke-width:1.2"/>
<rect x="82.6" y="-1.6" width="6" height="3.2" rx="1" fill="#1c1c1c"/>
<path d="M7,-3.4 L12.5,-1.9 L12.5,1.9 L7,3.4 Z" class="m" style="stroke-width:1.4"/>
<path d="M0.5,-7.6 L5,-7.0 L8.2,-4.3999999999999995 L8.2,4.3999999999999995 L5,7.0 L0.5,7.6 L-2,5.0 L-2,-5.0 Z" class="o" style="stroke-width:2"/>
<ellipse cx="2.6" cy="0" rx="3.2" ry="5.0" class="m" style="stroke-width:1.3"/>
<ellipse cx="1.8" cy="0" rx="1.5" ry="2.5999999999999996" class="m" style="stroke-width:1.1"/>
<line x1="5.6" y1="-6.199999999999999" x2="5.6" y2="6.199999999999999" class="t"/>
</g>
<g transform="translate(708.5,522.5) rotate(210.05)">
<rect x="8" y="-1.7" width="36.5" height="3.4" class="m" style="stroke-width:1.3"/>
<rect x="43.5" y="-2.1" width="36.4" height="4.2" class="m" style="stroke-width:1.35"/>
<rect x="78.9" y="-1.5" width="3" height="3" class="m" style="stroke-width:1.2"/>
<rect x="81.4" y="-1.6" width="6" height="3.2" rx="1" fill="#1c1c1c"/>
<path d="M7,-3.4 L12.5,-1.9 L12.5,1.9 L7,3.4 Z" class="m" style="stroke-width:1.4"/>
<rect x="-6.5" y="-1.4" width="5" height="2.8" rx="1" fill="#1c1c1c"/>
<path d="M0.5,-7.6 L5,-7.0 L8.2,-4.3999999999999995 L8.2,4.3999999999999995 L5,7.0 L0.5,7.6 L-2,5.0 L-2,-5.0 Z" class="o" style="stroke-width:2"/>
<ellipse cx="2.6" cy="0" rx="3.2" ry="5.0" class="m" style="stroke-width:1.3"/>
<ellipse cx="1.8" cy="0" rx="1.5" ry="2.5999999999999996" class="m" style="stroke-width:1.1"/>
<line x1="5.6" y1="-6.199999999999999" x2="5.6" y2="6.199999999999999" class="t"/>
</g>
<g transform="translate(782.5,566.0) rotate(28.50)">
<rect x="8" y="-1.7" width="20.6" height="3.4" class="m" style="stroke-width:1.3"/>
<rect x="27.6" y="-2.1" width="14.4" height="4.2" class="m" style="stroke-width:1.35"/>
<rect x="41.0" y="-1.5" width="3" height="3" class="m" style="stroke-width:1.2"/>
<rect x="43.5" y="-1.6" width="6" height="3.2" rx="1" fill="#1c1c1c"/>
<path d="M7,-3.4 L12.5,-1.9 L12.5,1.9 L7,3.4 Z" class="m" style="stroke-width:1.4"/>
<rect x="-6.5" y="-1.4" width="5" height="2.8" rx="1" fill="#1c1c1c"/>
<path d="M0.5,-7.6 L5,-7.0 L8.2,-4.3999999999999995 L8.2,4.3999999999999995 L5,7.0 L0.5,7.6 L-2,5.0 L-2,-5.0 Z" class="o" style="stroke-width:2"/>
<ellipse cx="2.6" cy="0" rx="3.2" ry="5.0" class="m" style="stroke-width:1.3"/>
<ellipse cx="1.8" cy="0" rx="1.5" ry="2.5999999999999996" class="m" style="stroke-width:1.1"/>
<line x1="5.6" y1="-6.199999999999999" x2="5.6" y2="6.199999999999999" class="t"/>
</g>
<path d="M296.5,343.5 L307.5,331.5 C312.5,328.5 317.5,333.5 315.5,340.5 C314.5,345.5 311.5,349.5 306.5,348.5 Z" class="og"  style="stroke-width:1.5"/>
<ellipse cx="309.8" cy="339.5" rx="2.6" ry="4.2" transform="rotate(24 309.8 339.5)" class="m" style="stroke-width:1.4"/>
<polyline points="299.5,343.0 308.0,334.5 305.5,342.5" class="tm" />
<polygon points="334.7,366.0 344.2,361.7 349.8,368.3 346.7,372.2" class="g"  style="fill:#f2f2f2"/>
<polyline points="334.7,366.0 344.2,361.7 347.0,358.6" class="tk"  style="stroke-width:1.9"/>
<polyline points="347.0,358.6 347.5,363.0 347.9,366.4 349.8,368.3" class="tk"  style="stroke-width:1.9"/>
<polyline points="349.8,368.3 352.2,360.3 355.2,354.5" class="tk"  style="stroke-width:2.1"/>
<path d="M357.3,355.0 C357.2,356.0 357.4,359.0 356.9,361.2 C356.4,363.4 355.6,366.5 354.5,368.3 C353.4,370.1 351.0,371.5 350.3,372.1" class="tk"  style="stroke-width:1.7"/>
<circle cx="347.0" cy="357.8" r="2.6" fill="#1c1c1c"/>
<circle cx="356.5" cy="352.6" r="2.8" fill="#1c1c1c"/>
<path d="M265.5,321.0 C266.8,321.9 270.8,324.5 273.0,326.5 C275.2,328.5 276.8,330.8 279.0,333.0 C281.2,335.2 283.3,337.4 286.0,339.5 C288.7,341.6 291.8,343.5 295.0,345.5 C298.2,347.5 301.7,349.5 305.0,351.5 C308.3,353.5 311.5,355.4 315.0,357.5 C318.5,359.6 322.3,361.9 326.0,364.0 C329.7,366.1 333.5,368.3 337.0,370.0 C340.5,371.7 343.5,373.0 347.0,374.0 C350.5,375.0 354.5,375.3 358.0,376.0 C361.5,376.7 364.8,376.8 368.0,378.0 C371.2,379.2 373.8,381.0 377.0,383.0 C380.2,385.0 383.5,387.7 387.0,390.0 C390.5,392.3 394.4,394.9 398.0,397.0 C401.6,399.1 406.8,401.8 408.5,402.8" fill="none" stroke="#1c1c1c" stroke-width="5.6" stroke-linecap="round" stroke-linejoin="round"/>
<path d="M265.5,321.0 C266.8,321.9 270.8,324.5 273.0,326.5 C275.2,328.5 276.8,330.8 279.0,333.0 C281.2,335.2 283.3,337.4 286.0,339.5 C288.7,341.6 291.8,343.5 295.0,345.5 C298.2,347.5 301.7,349.5 305.0,351.5 C308.3,353.5 311.5,355.4 315.0,357.5 C318.5,359.6 322.3,361.9 326.0,364.0 C329.7,366.1 333.5,368.3 337.0,370.0 C340.5,371.7 343.5,373.0 347.0,374.0 C350.5,375.0 354.5,375.3 358.0,376.0 C361.5,376.7 364.8,376.8 368.0,378.0 C371.2,379.2 373.8,381.0 377.0,383.0 C380.2,385.0 383.5,387.7 387.0,390.0 C390.5,392.3 394.4,394.9 398.0,397.0 C401.6,399.1 406.8,401.8 408.5,402.8" fill="none" stroke="#fafafa" stroke-width="2.3999999999999995" stroke-linecap="round" stroke-linejoin="round"/>
<line x1="265.5" y1="321" x2="269" y2="323.6" stroke="#1c1c1c" stroke-width="5" stroke-linecap="round"/>
<line x1="405.5" y1="401.2" x2="408.5" y2="402.8" stroke="#1c1c1c" stroke-width="5" stroke-linecap="round"/>
<rect x="294" y="345.5" width="2.4" height="4" fill="#1c1c1c"/>
<rect x="335.5" y="370" width="2.4" height="4" fill="#1c1c1c"/>
<polygon points="691.3,563.1 698.9,560.3 706.4,566.4 703.3,569.3" class="g"  style="fill:#f2f2f2"/>
<polyline points="691.3,563.1 698.9,560.3 699.6,554.1" class="tk"  style="stroke-width:1.9"/>
<polyline points="699.6,554.1 700.8,557.5 703.6,559.8 704.5,563.6 706.4,566.4" class="tk"  style="stroke-width:1.9"/>
<polyline points="706.4,566.4 707.9,561.6 709.2,556.5 709.3,549.1" class="tk"  style="stroke-width:2.1"/>
<path d="M710.8,547.9 C711.0,548.1 711.6,548.1 712.1,549.4 C712.5,550.7 713.5,553.2 713.5,555.6 C713.5,558.0 713.0,561.3 712.1,563.6 C711.2,565.9 709.4,568.0 708.3,569.2 C707.2,570.4 706.0,570.5 705.5,570.7" class="tk"  style="stroke-width:1.7"/>
<circle cx="699.6" cy="552.3" r="2.6" fill="#1c1c1c"/>
<circle cx="709.1" cy="547.1" r="2.8" fill="#1c1c1c"/>
<path d="M734.0,589.0 L745.0,577.0 C750.0,574.0 755.0,579.0 753.0,586.0 C752.0,591.0 749.0,595.0 744.0,594.0 Z" class="og"  style="stroke-width:1.5"/>
<ellipse cx="747.3" cy="585.0" rx="2.6" ry="4.2" transform="rotate(24 747.3 585.0)" class="m" style="stroke-width:1.4"/>
<polyline points="737.0,588.5 745.5,580.0 743.0,588.0" class="tm" />
<path d="M633.0,524.3 C634.2,525.0 637.7,527.2 640.0,528.5 C642.3,529.8 644.5,530.8 647.0,532.0 C649.5,533.2 652.5,534.4 655.0,535.5 C657.5,536.6 659.8,537.4 662.0,538.5 C664.2,539.6 666.2,540.6 668.0,542.0 C669.8,543.4 671.5,545.2 673.0,547.0 C674.5,548.8 675.5,551.0 677.0,553.0 C678.5,555.0 679.8,557.0 682.0,559.0 C684.2,561.0 687.0,563.2 690.0,565.0 C693.0,566.8 696.3,568.0 700.0,570.0 C703.7,572.0 708.0,574.8 712.0,577.0 C716.0,579.2 720.2,580.8 724.0,583.0 C727.8,585.2 731.3,587.9 735.0,590.0 C738.7,592.1 742.3,594.3 746.0,595.5 C749.7,596.7 753.7,596.3 757.0,597.0 C760.3,597.7 763.5,598.3 766.0,599.5 C768.5,600.7 770.4,602.6 772.0,604.0 C773.6,605.4 775.2,607.3 775.8,608.0" fill="none" stroke="#1c1c1c" stroke-width="5.6" stroke-linecap="round" stroke-linejoin="round"/>
<path d="M633.0,524.3 C634.2,525.0 637.7,527.2 640.0,528.5 C642.3,529.8 644.5,530.8 647.0,532.0 C649.5,533.2 652.5,534.4 655.0,535.5 C657.5,536.6 659.8,537.4 662.0,538.5 C664.2,539.6 666.2,540.6 668.0,542.0 C669.8,543.4 671.5,545.2 673.0,547.0 C674.5,548.8 675.5,551.0 677.0,553.0 C678.5,555.0 679.8,557.0 682.0,559.0 C684.2,561.0 687.0,563.2 690.0,565.0 C693.0,566.8 696.3,568.0 700.0,570.0 C703.7,572.0 708.0,574.8 712.0,577.0 C716.0,579.2 720.2,580.8 724.0,583.0 C727.8,585.2 731.3,587.9 735.0,590.0 C738.7,592.1 742.3,594.3 746.0,595.5 C749.7,596.7 753.7,596.3 757.0,597.0 C760.3,597.7 763.5,598.3 766.0,599.5 C768.5,600.7 770.4,602.6 772.0,604.0 C773.6,605.4 775.2,607.3 775.8,608.0" fill="none" stroke="#fafafa" stroke-width="2.3999999999999995" stroke-linecap="round" stroke-linejoin="round"/>
<line x1="633" y1="524.3" x2="636" y2="526.2" stroke="#1c1c1c" stroke-width="5" stroke-linecap="round"/>
<line x1="773.5" y1="605.5" x2="775.8" y2="608" stroke="#1c1c1c" stroke-width="5" stroke-linecap="round"/>
<rect x="689" y="566" width="2.4" height="4" fill="#1c1c1c"/>
<rect x="733" y="590.5" width="2.4" height="4" fill="#1c1c1c"/>
<polygon points="575.8,560.3 703.5,633.5 705.0,637.0 705.0,645.0 702.0,648.5 699.0,648.0 698.5,645.5 695.0,646.7 690.0,641.7 685.0,643.0 670.8,635.8 670.8,632.5 663.0,626.7 660.0,627.5 651.7,623.0 650.0,619.5 596.7,589.0 593.0,590.0 585.8,585.8 585.0,582.5 578.0,577.5 573.0,578.0 558.0,571.0 557.5,567.5" class="o"  style="stroke-width:1.5"/>
<polyline points="595.0,588.6 650.0,619.3" class="tk"  style="stroke-width:2.4"/>
<polyline points="597.0,586.5 648.0,615.0" class="t" />
<ellipse cx="571.5" cy="567.3" rx="1.6" ry="1" fill="#222" transform="rotate(28 571.5 567.3)"/>
<ellipse cx="587" cy="577.6" rx="1.6" ry="1" fill="#222" transform="rotate(28 587 577.6)"/>
<ellipse cx="625" cy="599.5" rx="1.6" ry="1" fill="#222" transform="rotate(28 625 599.5)"/>
<ellipse cx="634" cy="604.5" rx="1.6" ry="1" fill="#222" transform="rotate(28 634 604.5)"/>
<ellipse cx="672" cy="627" rx="1.6" ry="1" fill="#222" transform="rotate(28 672 627)"/>
<ellipse cx="601" cy="593.2" rx="1.6" ry="1" fill="#222" transform="rotate(28 601 593.2)"/>
<ellipse cx="645" cy="617" rx="1.6" ry="1" fill="#222" transform="rotate(28 645 617)"/>
<polyline points="700.0,640.0 700.5,647.0" class="tm" />
<line x1="622.5" y1="612" x2="622.5" y2="640" stroke="#8a8a8a" stroke-width="0.8" stroke-dasharray="9 2.5"/>
<path d="M570.8,608.3 L644,650.8 L643.3,658.3 Q643,660.5 641,661.2 L615,672.5 L613.3,670.8 L606.7,672.5 L590,662.5 L590,656.7 L586.7,654 L580.8,656.7 L563.3,647.5 L563.3,643.3 L560,639 L553.3,640.8 L535.8,631.7 L535.8,625 Q536.5,622 539,620.8 L542.5,618.3 Q547,615.4 551.7,615 Q556,614.9 560,613.3 Q565,610 570.8,608.3 Z" class="o"  style="stroke-width:1.8"/>
<polygon points="553.3,634.2 560.0,630.8 560.0,639.2 553.3,640.8" class="g" />
<polygon points="580.8,649.2 586.7,646.3 586.7,654.2 580.8,656.7" class="g" />
<polygon points="606.7,664.2 613.3,661.7 613.3,670.8 606.7,672.5" class="g2" />
<polygon points="613.3,661.7 644.2,650.8 643.3,658.3 641.2,661.0 615.0,672.3 613.3,670.8" class="g" />
<polygon points="560.0,628.7 582.5,618.7 590.8,622.5 564.2,633.7" class="g"  style="opacity:0.85"/>
<polygon points="596.7,651.7 621.7,640.0 630.8,644.2 604.2,656.7" class="g"  style="opacity:0.85"/>
<polyline points="535.8,625.0 553.3,634.2 553.3,640.8" class="tk"  style="stroke-width:1.6"/>
<polyline points="553.3,634.2 560.0,630.8" class="tm" />
<polyline points="545.0,620.8 560.0,628.7 560.0,631.0" class="t" />
<polyline points="563.3,640.0 580.8,649.2 580.8,656.7" class="tk"  style="stroke-width:1.6"/>
<polyline points="580.8,649.2 586.7,646.3 586.7,654.0" class="tm" />
<polyline points="563.3,640.0 570.8,635.8" class="t" />
<polyline points="590.0,655.0 606.7,664.2 606.7,672.5" class="tk"  style="stroke-width:1.6"/>
<polyline points="606.7,664.2 613.3,661.7 613.3,670.8" class="tm" />
<polyline points="613.3,661.7 644.2,650.8" class="tm" />
<polyline points="590.0,655.0 596.7,651.7" class="t" />
<polyline points="560.0,628.7 582.5,618.7" class="tm" />
<polyline points="561.7,631.3 586.7,620.8" class="t" />
<polyline points="564.2,633.7 590.8,622.5" class="tm" />
<path d="M566.7,637.5 Q580,635.5 593.3,625.8" class="t" />
<polyline points="582.5,618.7 582.8,622.0" class="t" />
<polyline points="586.7,620.8 587.0,624.0" class="t" />
<polyline points="596.7,651.7 621.7,640.0" class="tm" />
<polyline points="600.0,654.2 626.7,642.0" class="t" />
<polyline points="604.2,656.7 630.8,644.2" class="tm" />
<path d="M606.7,660.5 Q622,657.5 638,648" class="t" />
<polyline points="621.7,640.0 622.0,643.5" class="t" />
<polyline points="626.7,642.0 627.0,645.5" class="t" />
<polyline points="586.7,646.3 600.0,640.8" class="t"  style="opacity:0.7"/>
<polyline points="570.8,635.8 577.0,633.0" class="t"  style="opacity:0.7"/>
<polygon points="868.8,541.9 870.5,539.8 873.0,539.4 879.2,541.9 889.9,539.4 892.2,539.8 893.3,541.3 892.1,545.3 894.4,547.5 893.8,550.3 891.0,552.0 895.0,556.0 894.4,559.9 885.4,564.4 877.5,559.9 874.7,553.7 869.6,551.4 869.3,546.4" class="og"  style="stroke-width:2.2"/>
<polygon points="871.0,543.0 873.5,541.2 876.0,542.6 874.0,545.5 871.5,545.0" class="m"  style="stroke:none"/>
<polyline points="873.0,546.0 880.0,543.5 889.0,541.2" class="tm" />
<polyline points="871.5,549.5 879.5,547.0 884.0,548.5" class="tm" />
<polyline points="884.5,547.6 888.8,546.3" class="tk"  style="stroke-width:2"/>
<polyline points="879.0,549.0 881.5,556.0 886.0,561.5" class="tm" />
<polyline points="883.0,551.5 892.0,556.5" class="tm" />
<polyline points="882.5,555.0 890.0,559.5" class="t" />
<polyline points="880.5,553.0 886.0,563.0" class="t" />
<polygon points="887.0,549.0 892.5,547.2 892.5,549.6 889.5,551.5" class="m"  style="stroke:none"/>
<polyline points="870.0,546.5 876.0,544.2 882.0,543.6 888.5,541.4" class="tk"  style="stroke-width:1.7"/>
<polyline points="870.5,550.5 875.5,552.2 878.5,558.5" class="tk"  style="stroke-width:1.8"/>
<polyline points="889.0,552.8 893.5,556.6" class="tk"  style="stroke-width:1.8"/>
<polyline points="878.8,551.0 884.0,556.5 890.5,560.6" class="tm" />
<polyline points="884.0,549.5 889.0,548.0" class="tk"  style="stroke-width:2.4"/>
<path d="M293.7,206.9 L318.0,198.9 L324.3,200.5 L323.9,218.6 L297.1,226.2 C291.8,225.0 290.5,219.0 290.7,214.0 C290.8,210.0 291.5,207.8 293.7,206.9 Z" class="o"  style="stroke-width:1.8;fill:url(#cg)"/>
<path d="M293.7,206.9 C299.3,207.0 303.8,213.0 303.3,219.0 C303.1,223.0 300.3,225.8 297.1,226.2" class="tm"  style="fill:#fff"/>
<path d="M293.3,209.0 C297.8,209.5 301.3,214.0 300.9,219.5 C300.7,222.2 299.3,224.4 296.8,225.0" class="t" />
<polygon points="292.5,214.5 296.3,213.2 297.3,219.6 293.3,221.0" class="tm" />
<polyline points="293.9,211.0 297.9,212.2" class="t" />
<polyline points="294.3,223.2 298.3,221.4" class="t" />
<polyline points="321.8,219.2 322.8,223.0 326.8,222.0 326.8,218.5" class="tm" />
<polygon points="318.0,198.9 317.5,192.6 320.8,190.2 327.8,191.8 328.5,198.5 326.3,200.8" class="m"  style="stroke-width:1.5"/>
<polyline points="320.3,192.8 323.3,191.8 323.7,195.5 320.7,196.5 320.3,192.8" class="t" />
<polyline points="318.3,198.8 326.3,200.8" class="tm" />
<polygon points="326.5,200.5 331.3,199.2 333.8,201.5 335.3,215.5 338.3,217.5 338.8,221.5 335.8,223.2 332.3,222.0 331.5,220.5 327.8,221.2 327.1,217.5" class="m"  style="stroke-width:1.5"/>
<polyline points="331.3,199.2 332.5,215.8 331.5,220.5" class="tm" />
<polyline points="332.5,215.8 335.3,215.5" class="t" />
<polygon points="339.0,180.9 342.3,181.2 354.1,187.6 356.9,192.0 357.4,196.5 355.8,200.5 352.3,204.0 346.8,207.6 342.3,211.9 341.1,216.0 337.8,217.5 335.1,215.5 333.6,202.0 330.8,199.0 328.5,198.5 327.8,192.0 328.9,185.9 334.3,182.4" class="o"  style="stroke-width:1.9"/>
<path d="M334.3,183.0 C332.3,189.0 333.3,196.0 336.3,201.0" class="tm" />
<path d="M337.8,181.6 C335.8,188.0 336.8,196.0 339.8,201.5" class="tm" />
<path d="M341.8,182.0 C338.8,189.0 339.8,200.0 343.3,207.5" class="tm" />
<ellipse cx="346.5" cy="197.6" rx="7.8" ry="9.6" transform="rotate(22 346.5 197.6)" class="mg"/>
<ellipse cx="347.9" cy="198.6" rx="4.4" ry="5.4" transform="rotate(22 347.9 198.6)" fill="#222"/>
<ellipse cx="348.3" cy="198.8" rx="2" ry="2.8" transform="rotate(22 348.3 198.8)" fill="#777"/>
<polyline points="329.8,189.0 333.3,188.2" class="t" />
<polyline points="352.3,189.0 355.8,193.5 356.1,198.5" class="t" />
<polyline points="336.8,203.5 340.8,209.5" class="tm" />
<polyline points="350.3,187.0 353.8,190.5" class="tk"  style="stroke-width:2"/>
<path d="M335.3,183.0 L340.3,182.0 L352.8,188.6" class="tk"  style="stroke-width:2.6"/>
<path d="M330.3,186.5 C329.3,192.0 330.3,197.0 332.8,200.5" class="tk"  style="stroke-width:2.2"/>
<path d="M339.8,189.0 C338.3,195.0 339.3,202.0 342.8,207.0" class="tk"  style="stroke-width:2"/>
<ellipse cx="346.5" cy="197.6" rx="7.8" ry="9.6" transform="rotate(22 346.5 197.6)" fill="none" stroke="#1c1c1c" stroke-width="1.8"/>
<circle cx="356.9" cy="193.5" r="1.3" fill="#1c1c1c"/>
<circle cx="355.9" cy="201.0" r="1.3" fill="#1c1c1c"/>
<circle cx="337.8" cy="211.5" r="1.3" fill="#1c1c1c"/>
<circle cx="335.8" cy="206.0" r="1.3" fill="#1c1c1c"/>
<polyline points="334.8,208.0 338.3,213.5" class="tk"  style="stroke-width:2.2"/>
<path d="M933.6,577.5 L958.6,568.9 L968.0,571.0 L968.5,588.0 L939.0,597.0 C933.5,596.0 931.3,591.0 931.3,586.0 C931.3,581.5 932.0,578.5 933.6,577.5 Z" class="o"  style="stroke-width:1.8;fill:url(#cg)"/>
<path d="M933.6,577.5 C939.5,578.0 944.0,583.5 943.6,589.5 C943.4,593.5 941.5,596.3 939.0,597.0" class="tm"  style="fill:#fff"/>
<path d="M933.4,580.0 C938.0,580.5 941.4,584.5 941.2,589.5 C941.0,592.8 940.0,594.8 938.0,595.6" class="t" />
<polyline points="933.5,585.5 937.0,583.0 939.5,587.5 936.5,591.5 933.5,590.0" class="t" />
<polyline points="934.5,582.0 938.5,584.0" class="t" />
<polyline points="935.0,593.5 938.0,590.6" class="t" />
<polyline points="963.0,589.5 964.0,593.5 968.5,592.5 968.5,588.2" class="tm" />
<polygon points="958.6,568.9 958.2,562.8 961.5,560.4 970.3,562.6 970.8,570.0 968.0,571.5" class="m"  style="stroke-width:1.5"/>
<polyline points="961.0,563.0 964.5,562.0 964.8,565.8 961.4,566.8 961.0,563.0" class="t" />
<polygon points="964.0,566.0 970.0,564.0 970.5,569.5 966.0,570.5" class="d" />
<polygon points="968.5,571.5 972.0,570.2 973.6,572.0 973.8,587.0 972.5,590.6 968.8,591.6" class="m"  style="stroke-width:1.5"/>
<polygon points="971.1,548.0 974.0,547.2 983.7,551.7 990.5,556.5 992.1,559.3 991.8,566.0 991.2,568.5 988.5,574.0 985.4,579.4 980.0,581.0 974.5,581.9 972.5,579.0 971.5,572.0 970.8,570.0 970.3,562.6 964.5,560.6 963.6,555.1 966.5,551.2" class="o"  style="stroke-width:1.9"/>
<path d="M970.0,549.5 C968.0,555.0 969.0,560.0 972.0,564.0" class="tm" />
<path d="M975.0,550.5 C972.0,557.0 973.5,566.0 975.0,576.0" class="tm" />
<ellipse cx="983.0" cy="565.5" rx="7" ry="11.5" transform="rotate(22 983.0 565.5)" class="m"/>
<ellipse cx="983.4" cy="565.8" rx="4.6" ry="8.4" transform="rotate(22 983.4 565.8)" class="mg"/>
<ellipse cx="983.0" cy="566.5" rx="2" ry="3" transform="rotate(22 983.0 566.5)" class="g2"/>
<polyline points="980.0,556.0 982.5,560.0" class="t" />
<polyline points="987.0,559.0 985.0,563.0" class="t" />
<polyline points="979.0,573.0 981.5,569.0" class="t" />
<polyline points="986.5,572.5 984.8,569.5" class="t" />
<polygon points="971.5,550.0 975.5,551.5 975.0,555.5 971.0,554.0" class="d"  style="opacity:0.8"/>
<polygon points="974.0,556.0 979.0,557.0 978.5,561.0 974.0,560.5" class="m"  style="stroke:none"/>
<circle cx="992.0" cy="562.0" r="1.2" fill="#1c1c1c"/>
<circle cx="990.5" cy="570.0" r="1.2" fill="#1c1c1c"/>
<circle cx="987.0" cy="577.0" r="1.2" fill="#1c1c1c"/>
<circle cx="981.0" cy="581.2" r="1.2" fill="#1c1c1c"/>
<circle cx="988.0" cy="554.5" r="1.2" fill="#1c1c1c"/>
<polyline points="966.8,551.5 971.2,548.4 974.0,547.6 983.5,552.0" class="tk"  style="stroke-width:2.8"/>
<polyline points="964.2,555.5 965.0,560.2 970.0,562.2" class="tk"  style="stroke-width:2.4"/>
<ellipse cx="983.0" cy="565.5" rx="7" ry="11.5" transform="rotate(22 983.0 565.5)" fill="none" stroke="#1c1c1c" stroke-width="1.9"/>
<polyline points="976.0,555.0 979.0,552.5" class="tk"  style="stroke-width:2"/>
<polyline points="972.5,568.0 974.0,576.0 976.0,580.0" class="tk"  style="stroke-width:2"/>
<line x1="986.2" y1="566.0" x2="987.8" y2="566.0" stroke="#333" stroke-width="0.9" transform="rotate(22 983.2 566.0)"/>
<line x1="985.3" y1="569.3" x2="986.5" y2="571.7" stroke="#333" stroke-width="0.9" transform="rotate(22 983.2 566.0)"/>
<line x1="983.2" y1="570.6" x2="983.2" y2="574.0" stroke="#333" stroke-width="0.9" transform="rotate(22 983.2 566.0)"/>
<line x1="981.1" y1="569.3" x2="979.9" y2="571.7" stroke="#333" stroke-width="0.9" transform="rotate(22 983.2 566.0)"/>
<line x1="980.2" y1="566.0" x2="978.6" y2="566.0" stroke="#333" stroke-width="0.9" transform="rotate(22 983.2 566.0)"/>
<line x1="981.1" y1="562.7" x2="979.9" y2="560.3" stroke="#333" stroke-width="0.9" transform="rotate(22 983.2 566.0)"/>
<line x1="983.2" y1="561.4" x2="983.2" y2="558.0" stroke="#333" stroke-width="0.9" transform="rotate(22 983.2 566.0)"/>
<line x1="985.3" y1="562.7" x2="986.5" y2="560.3" stroke="#333" stroke-width="0.9" transform="rotate(22 983.2 566.0)"/>
<path d="M594.8,383.3 L619.5,376.3 C623.5,375.8 626.6,378.2 626.7,381.5 L625.6,392.3 C625.3,394.8 623.3,396.3 620.4,396.8 L600,402.9 Z" class="o"  style="stroke-width:1.8;fill:url(#cg)"/>
<polygon points="595.5,384.2 600.6,383.0 602.5,385.5 602.0,404.0 598.5,407.0 596.0,404.5" class="m"  style="stroke-width:1.5"/>
<polygon points="579.5,381.7 583.0,381.0 586.0,383.8 595.9,385.3 597.5,392.0 598.9,403.7 597.0,407.5 590.8,413.9 586.0,418.0 580.5,421.3 577.0,420.8 565.2,414.2 561.2,409.0 560.1,404.7 561.0,401.0 564.2,399.4 570.0,393.0 575.4,389.4 578.0,385.5" class="o"  style="stroke-width:1.9"/>
<polyline points="575.4,389.4 588.0,392.5 597.0,391.5" class="tm" />
<polyline points="564.2,399.6 574.0,404.0 577.0,420.0" class="tm" />
<polyline points="574.0,404.0 588.0,392.5" class="tm" />
<polyline points="588.0,392.5 591.0,413.5" class="tm" />
<polyline points="580.0,396.0 584.0,410.0 590.0,406.0" class="t" />
<polyline points="570.0,399.0 583.0,402.5 590.0,399.0" class="t" />
<polyline points="568.0,408.0 575.0,411.5" class="t" />
<polyline points="583.0,384.0 586.0,391.0" class="t" />
<ellipse cx="564.4" cy="405.8" rx="2.8" ry="3.6" class="m"/>
<ellipse cx="585" cy="411.5" rx="3.4" ry="4.6" transform="rotate(25 585 411.5)" class="m"/>
<ellipse cx="581" cy="387" rx="1.6" ry="2" class="m"/>
<polyline points="577.5,402.2 581.5,403.4" class="tk"  style="stroke-width:2"/>
<circle cx="592" cy="411.5" r="1.3" fill="#1c1c1c"/>
<circle cx="594.5" cy="408" r="1.3" fill="#1c1c1c"/>
<circle cx="588.5" cy="416" r="1.3" fill="#1c1c1c"/>
<polygon points="591.0,394.0 596.5,393.0 597.5,402.5 592.5,404.5" class="g" />
<polyline points="591.0,394.0 592.5,404.5" class="t" />
<polyline points="579.5,382.0 583.0,381.0 586.0,383.8" class="tk"  style="stroke-width:2.6"/>
<polyline points="566.0,414.5 577.0,420.6 581.0,421.0" class="tk"  style="stroke-width:2.4"/>
<polyline points="561.0,401.5 560.3,405.0 561.5,409.0" class="tk"  style="stroke-width:2.4"/>
<polyline points="571.0,392.5 576.0,389.5" class="tk"  style="stroke-width:2.4"/>
<polyline points="589.0,393.5 590.5,404.0" class="tk"  style="stroke-width:1.7"/>
<polyline points="576.0,397.0 579.5,407.5" class="tm" />
<polyline points="566.5,402.5 572.5,412.0" class="tm" />
<polyline points="581.0,413.0 586.5,403.5" class="tm" />
<polyline points="594.5,386.0 596.5,403.0" class="tk"  style="stroke-width:2"/>
<path d="M626.5,400.6 L650,394.2 C654.5,393.6 658,396 658.3,399.6 L657.1,410.9 C656.6,413 654.8,414 652,414.6 L631.6,421.3 Z" class="o"  style="stroke-width:1.8;fill:url(#cg)"/>
<polygon points="627.0,401.6 632.0,400.4 634.5,403.0 634.0,421.5 631.5,425.5 628.6,423.5" class="m"  style="stroke-width:1.5"/>
<polygon points="618.3,401.7 621.5,400.4 624.0,402.6 628.5,403.7 630.0,412.0 630.6,423.1 628.8,427.0 625.5,431.3 624.8,437.0 620.5,441.0 616.3,442.7 612.0,441.6 600.5,436.0 597.9,433.3 597.7,427.0 598.9,421.1 602.5,415.5 608.1,409.8 613.5,407.0 616.5,404.5" class="o"  style="stroke-width:1.9"/>
<path d="M602.5,415.5 C608,411 617,412.5 622,417.5 C626,421.5 627,427 625.5,431.3" class="tm" />
<path d="M598.9,421.1 C604,417 613,418.5 617,423" class="tm" />
<polyline points="617.0,404.5 619.5,412.5 624.5,416.0" class="tm" />
<polyline points="621.5,401.0 623.5,410.5 629.5,412.5" class="tm" />
<polyline points="624.0,408.0 626.8,425.0" class="t" />
<ellipse cx="620.4" cy="431.4" rx="5.8" ry="6.6" transform="rotate(20 620.4 431.4)" fill="#222"/>
<ellipse cx="621" cy="431.8" rx="2.6" ry="3.2" transform="rotate(20 621 431.8)" fill="#7a7a7a"/>
<path d="M612.5,426.5 C609,431 610.5,437.5 616,441.5" class="tm"/>
<polygon points="604.0,421.0 612.0,423.5 609.5,431.0 603.0,428.5" class="g" />
<polyline points="603.5,425.5 604.5,433.5 608.0,436.0 607.5,428.0" class="tm" />
<polyline points="600.5,424.0 601.0,432.5" class="tm" />
<polyline points="608.0,429.0 611.5,437.0" class="t" />
<circle cx="619.5" cy="401.8" r="1.3" fill="#1c1c1c"/>
<circle cx="629.8" cy="425.5" r="1.3" fill="#1c1c1c"/>
<polyline points="618.5,402.0 621.5,400.6 624.0,402.6" class="tk"  style="stroke-width:2.6"/>
<polyline points="598.0,427.0 598.2,433.0 601.0,436.3 612.0,441.6" class="tk"  style="stroke-width:2.4"/>
<polyline points="603.0,415.5 608.5,410.0" class="tk"  style="stroke-width:2.2"/>
<polyline points="626.5,404.5 628.6,423.0" class="tk"  style="stroke-width:2"/>
<polyline points="611.0,413.0 615.0,421.0" class="tm" />
<polyline points="606.0,417.0 610.0,423.5" class="tm" />
<ellipse cx="620.4" cy="431.4" rx="7.4" ry="8.2" transform="rotate(20 620.4 431.4)" fill="none" stroke="#1c1c1c" stroke-width="1.3"/>
<path d="M416.5,229.0 C417.6,229.8 420.5,231.7 423.3,234.0 C426.1,236.3 430.4,240.9 433.3,243.0 C436.2,245.1 438.2,246.1 441.0,246.8 C443.8,247.5 447.1,247.5 450.0,247.3 C452.9,247.1 455.5,246.7 458.3,245.8 C461.1,244.9 465.3,242.4 466.7,241.7" fill="none" stroke="#1c1c1c" stroke-width="5" stroke-linecap="round" stroke-linejoin="round"/>
<path d="M416.5,229.0 C417.6,229.8 420.5,231.7 423.3,234.0 C426.1,236.3 430.4,240.9 433.3,243.0 C436.2,245.1 438.2,246.1 441.0,246.8 C443.8,247.5 447.1,247.5 450.0,247.3 C452.9,247.1 455.5,246.7 458.3,245.8 C461.1,244.9 465.3,242.4 466.7,241.7" fill="none" stroke="#f6f6f6" stroke-width="2.0" stroke-linecap="round" stroke-linejoin="round"/>
<path d="M486.7,186.7 C484.8,186.6 478.9,186.2 475.0,186.3 C471.1,186.4 468.3,186.3 463.3,187.5 C458.3,188.7 451.1,190.8 445.0,193.3 C438.9,195.8 432.8,198.9 426.7,202.5 C420.6,206.1 413.4,211.3 408.3,215.0 C403.2,218.7 399.3,221.7 396.0,224.5 C392.7,227.3 389.9,229.9 388.5,232.0 C387.1,234.1 386.9,235.8 387.3,237.0 C387.7,238.2 389.4,239.3 391.0,239.2 C392.6,239.1 394.8,237.9 397.0,236.5 C399.2,235.1 401.8,232.4 404.0,231.0 C406.2,229.6 407.9,228.6 410.0,228.3 C412.1,228.0 414.3,228.1 416.5,229.0 C418.7,229.9 422.2,233.2 423.3,234.0" fill="none" stroke="#1c1c1c" stroke-width="8.6" stroke-linecap="round" stroke-linejoin="round"/>
<path d="M486.7,186.7 C484.8,186.6 478.9,186.2 475.0,186.3 C471.1,186.4 468.3,186.3 463.3,187.5 C458.3,188.7 451.1,190.8 445.0,193.3 C438.9,195.8 432.8,198.9 426.7,202.5 C420.6,206.1 413.4,211.3 408.3,215.0 C403.2,218.7 399.3,221.7 396.0,224.5 C392.7,227.3 389.9,229.9 388.5,232.0 C387.1,234.1 386.9,235.8 387.3,237.0 C387.7,238.2 389.4,239.3 391.0,239.2 C392.6,239.1 394.8,237.9 397.0,236.5 C399.2,235.1 401.8,232.4 404.0,231.0 C406.2,229.6 407.9,228.6 410.0,228.3 C412.1,228.0 414.3,228.1 416.5,229.0 C418.7,229.9 422.2,233.2 423.3,234.0" fill="none" stroke="#f6f6f6" stroke-width="4.8999999999999995" stroke-linecap="round" stroke-linejoin="round"/>
<rect x="400.5" y="236.7" width="6.0" height="4.2" rx="1.3" fill="#1c1c1c" transform="rotate(18 403.5 238.8)"/>
<ellipse cx="403.8" cy="238.5" rx="0.5" ry="0.4" fill="#bbb"/>
<path d="M426.7,205.8 C427.9,206.4 431.5,208.5 434.0,209.5 C436.5,210.5 437.9,211.1 441.7,212.0 C445.5,212.9 452.6,214.6 456.7,215.0 C460.8,215.4 463.2,215.0 466.0,214.6 C468.8,214.2 469.9,213.7 473.3,212.5 C476.8,211.3 483.2,208.8 486.7,207.5 C490.1,206.2 491.7,205.7 494.0,204.8 C496.3,203.9 499.4,202.7 500.5,202.3" fill="none" stroke="#1c1c1c" stroke-width="8" stroke-linecap="round" stroke-linejoin="round"/>
<path d="M426.7,205.8 C427.9,206.4 431.5,208.5 434.0,209.5 C436.5,210.5 437.9,211.1 441.7,212.0 C445.5,212.9 452.6,214.6 456.7,215.0 C460.8,215.4 463.2,215.0 466.0,214.6 C468.8,214.2 469.9,213.7 473.3,212.5 C476.8,211.3 483.2,208.8 486.7,207.5 C490.1,206.2 491.7,205.7 494.0,204.8 C496.3,203.9 499.4,202.7 500.5,202.3" fill="none" stroke="#f6f6f6" stroke-width="4.3" stroke-linecap="round" stroke-linejoin="round"/>
<path d="M470.0,186.6 C471.3,186.5 475.2,186.1 478.0,186.2 C480.8,186.2 484.4,186.5 486.7,186.9 C489.0,187.3 490.3,187.7 492.0,188.5 C493.7,189.3 494.8,189.9 496.7,191.7 C498.6,193.5 500.8,196.7 503.3,199.5 C505.8,202.3 508.9,205.7 511.7,208.3 C514.5,210.9 517.6,213.2 520.0,215.0 C522.4,216.8 525.0,218.3 526.0,219.0" fill="none" stroke="#1c1c1c" stroke-width="8" stroke-linecap="round" stroke-linejoin="round"/>
<path d="M470.0,186.6 C471.3,186.5 475.2,186.1 478.0,186.2 C480.8,186.2 484.4,186.5 486.7,186.9 C489.0,187.3 490.3,187.7 492.0,188.5 C493.7,189.3 494.8,189.9 496.7,191.7 C498.6,193.5 500.8,196.7 503.3,199.5 C505.8,202.3 508.9,205.7 511.7,208.3 C514.5,210.9 517.6,213.2 520.0,215.0 C522.4,216.8 525.0,218.3 526.0,219.0" fill="none" stroke="#f6f6f6" stroke-width="4.3" stroke-linecap="round" stroke-linejoin="round"/>
<path d="M505.5,218.5 C505.6,219.0 505.4,220.6 506.0,221.5 C506.6,222.4 507.5,223.3 509.0,224.0 C510.5,224.7 513.0,225.3 515.0,225.8 C517.0,226.3 518.8,226.5 521.0,227.0 C523.2,227.5 526.8,228.3 528.0,228.6" fill="none" stroke="#1c1c1c" stroke-width="5.2" stroke-linecap="round" stroke-linejoin="round"/>
<path d="M505.5,218.5 C505.6,219.0 505.4,220.6 506.0,221.5 C506.6,222.4 507.5,223.3 509.0,224.0 C510.5,224.7 513.0,225.3 515.0,225.8 C517.0,226.3 518.8,226.5 521.0,227.0 C523.2,227.5 526.8,228.3 528.0,228.6" fill="none" stroke="#f6f6f6" stroke-width="1.8000000000000003" stroke-linecap="round" stroke-linejoin="round"/>
<rect x="503.9" y="224.3" width="5.6" height="3.8" rx="1.3" fill="#1c1c1c" transform="rotate(18 506.7 226.2)"/>
<ellipse cx="507.0" cy="225.9" rx="0.3" ry="0.3" fill="#bbb"/>
<polygon points="524.5,216.0 530.5,214.2 537.5,219.0 538.6,224.0 538.2,230.5 534.5,233.6 529.5,232.0 524.5,227.5 522.8,221.0" class="o"  style="stroke-width:1.8"/>
<polyline points="526.0,220.5 531.5,224.5 533.5,232.5" class="tm" />
<polyline points="531.5,224.5 537.5,220.5" class="tm" />
<polygon points="522.5,221.0 526.5,219.5 529.0,228.5 525.0,228.0" class="d" />
<ellipse cx="535.6" cy="227.8" rx="1.7" ry="2.5" class="m"/>
<polyline points="528.0,222.0 529.5,230.5" class="t" />
<path d="M470.0,185.0 C471.3,184.6 475.2,183.5 478.0,182.6 C480.8,181.7 483.9,180.6 486.7,179.6 C489.5,178.6 492.2,177.4 495.0,176.4 C497.8,175.4 501.0,174.2 503.3,173.3 C505.6,172.4 507.1,171.8 509.0,171.0 C510.9,170.2 513.6,169.2 514.5,168.8" fill="none" stroke="#1c1c1c" stroke-width="6.2" stroke-linecap="round" stroke-linejoin="round"/>
<path d="M470.0,185.0 C471.3,184.6 475.2,183.5 478.0,182.6 C480.8,181.7 483.9,180.6 486.7,179.6 C489.5,178.6 492.2,177.4 495.0,176.4 C497.8,175.4 501.0,174.2 503.3,173.3 C505.6,172.4 507.1,171.8 509.0,171.0 C510.9,170.2 513.6,169.2 514.5,168.8" fill="none" stroke="#f6f6f6" stroke-width="2.8000000000000003" stroke-linecap="round" stroke-linejoin="round"/>
<path d="M478.5,172.2 C478.6,172.7 478.5,174.2 479.0,175.0 C479.5,175.8 480.3,176.8 481.5,177.2 C482.7,177.6 484.6,177.5 486.0,177.3 C487.4,177.1 489.3,176.2 490.0,176.0" fill="none" stroke="#1c1c1c" stroke-width="3.4" stroke-linecap="round" stroke-linejoin="round"/>
<path d="M478.5,172.2 C478.6,172.7 478.5,174.2 479.0,175.0 C479.5,175.8 480.3,176.8 481.5,177.2 C482.7,177.6 484.6,177.5 486.0,177.3 C487.4,177.1 489.3,176.2 490.0,176.0" fill="none" stroke="#f6f6f6" stroke-width="0.6999999999999997" stroke-linecap="round" stroke-linejoin="round"/>
<polygon points="513.3,163.0 522.0,157.8 524.0,157.6 529.3,160.6 529.6,170.0 521.0,175.0 519.0,175.0 513.6,171.8" class="o"  style="stroke-width:1.7"/>
<polygon points="519.6,166.8 529.0,161.2 529.2,169.8 520.0,174.6" class="g" />
<polyline points="513.5,163.2 519.6,166.6 529.2,161.0" class="tm" />
<polyline points="519.6,166.6 519.8,174.8" class="tm" />
<rect x="466.1" y="180.3" width="6.4" height="4.6" rx="1.3" fill="#1c1c1c" transform="rotate(18 469.3 182.6)"/>
<ellipse cx="469.6" cy="182.3" rx="0.7" ry="0.6" fill="#bbb"/>
<polyline points="471.0,184.5 471.5,191.0" class="tm" />
<rect x="494.3" y="196.5" width="6.4" height="4.6" rx="1.3" fill="#1c1c1c" transform="rotate(18 497.5 198.8)"/>
<ellipse cx="497.8" cy="198.5" rx="0.7" ry="0.6" fill="#bbb"/>
<polyline points="498.5,201.0 499.5,206.0" class="tm" />
<path d="M456.7,128.3 C457.1,129.2 458.4,132.1 459.0,134.0 C459.6,135.9 460.0,137.9 460.3,140.0 C460.6,142.1 460.9,144.5 461.0,146.5 C461.1,148.5 461.2,150.4 460.6,152.0 C460.0,153.6 458.7,155.0 457.5,156.0 C456.3,157.0 455.1,157.3 453.3,157.8 C451.6,158.3 448.9,158.6 447.0,159.0 C445.1,159.4 443.4,159.7 441.7,160.3 C439.9,160.9 438.2,161.7 436.5,162.5 C434.8,163.3 433.4,164.3 431.7,165.2 C429.9,166.1 426.9,167.5 426.0,168.0" fill="none" stroke="#1c1c1c" stroke-width="5.4" stroke-linecap="round" stroke-linejoin="round"/>
<path d="M456.7,128.3 C457.1,129.2 458.4,132.1 459.0,134.0 C459.6,135.9 460.0,137.9 460.3,140.0 C460.6,142.1 460.9,144.5 461.0,146.5 C461.1,148.5 461.2,150.4 460.6,152.0 C460.0,153.6 458.7,155.0 457.5,156.0 C456.3,157.0 455.1,157.3 453.3,157.8 C451.6,158.3 448.9,158.6 447.0,159.0 C445.1,159.4 443.4,159.7 441.7,160.3 C439.9,160.9 438.2,161.7 436.5,162.5 C434.8,163.3 433.4,164.3 431.7,165.2 C429.9,166.1 426.9,167.5 426.0,168.0" fill="none" stroke="#f6f6f6" stroke-width="2.2" stroke-linecap="round" stroke-linejoin="round"/>
<path d="M483.5,127.5 C482.2,127.9 478.2,129.3 476.0,130.0 C473.8,130.7 471.8,131.5 470.0,131.7 C468.2,131.9 466.7,131.4 465.0,131.0 C463.3,130.6 461.9,129.8 460.0,129.0 C458.1,128.2 455.3,126.5 453.3,126.0 C451.3,125.5 449.6,125.6 448.0,126.0 C446.4,126.4 445.0,127.1 443.5,128.3 C442.0,129.6 440.1,131.6 438.8,133.5 C437.6,135.4 436.8,137.8 436.0,140.0 C435.2,142.2 434.9,144.4 434.2,146.7 C433.4,148.9 432.5,151.3 431.5,153.5 C430.5,155.7 429.5,158.1 428.3,160.0 C427.1,161.9 425.9,163.5 424.5,165.0 C423.1,166.5 422.1,167.8 420.0,169.0 C417.9,170.2 414.8,171.3 412.0,172.2 C409.2,173.1 406.0,173.5 403.3,174.3 C400.6,175.1 397.2,176.6 396.0,177.0" fill="none" stroke="#1c1c1c" stroke-width="5.4" stroke-linecap="round" stroke-linejoin="round"/>
<path d="M483.5,127.5 C482.2,127.9 478.2,129.3 476.0,130.0 C473.8,130.7 471.8,131.5 470.0,131.7 C468.2,131.9 466.7,131.4 465.0,131.0 C463.3,130.6 461.9,129.8 460.0,129.0 C458.1,128.2 455.3,126.5 453.3,126.0 C451.3,125.5 449.6,125.6 448.0,126.0 C446.4,126.4 445.0,127.1 443.5,128.3 C442.0,129.6 440.1,131.6 438.8,133.5 C437.6,135.4 436.8,137.8 436.0,140.0 C435.2,142.2 434.9,144.4 434.2,146.7 C433.4,148.9 432.5,151.3 431.5,153.5 C430.5,155.7 429.5,158.1 428.3,160.0 C427.1,161.9 425.9,163.5 424.5,165.0 C423.1,166.5 422.1,167.8 420.0,169.0 C417.9,170.2 414.8,171.3 412.0,172.2 C409.2,173.1 406.0,173.5 403.3,174.3 C400.6,175.1 397.2,176.6 396.0,177.0" fill="none" stroke="#f6f6f6" stroke-width="2.2" stroke-linecap="round" stroke-linejoin="round"/>
<path d="M445.2,149.2 C445.4,148.8 445.6,147.5 446.2,146.8 C446.8,146.1 447.9,145.4 449.0,145.2 C450.1,144.9 451.9,144.9 453.0,145.3 C454.1,145.7 455.1,146.6 455.6,147.5 C456.2,148.4 456.3,149.7 456.3,151.0 C456.3,152.3 455.6,154.8 455.5,155.5" fill="none" stroke="#1c1c1c" stroke-width="3.6" stroke-linecap="round" stroke-linejoin="round"/>
<path d="M445.2,149.2 C445.4,148.8 445.6,147.5 446.2,146.8 C446.8,146.1 447.9,145.4 449.0,145.2 C450.1,144.9 451.9,144.9 453.0,145.3 C454.1,145.7 455.1,146.6 455.6,147.5 C456.2,148.4 456.3,149.7 456.3,151.0 C456.3,152.3 455.6,154.8 455.5,155.5" fill="none" stroke="#f6f6f6" stroke-width="0.8999999999999999" stroke-linecap="round" stroke-linejoin="round"/>
<rect x="449.4" y="127.4" width="6.2" height="4.4" rx="1.3" fill="#1c1c1c" transform="rotate(18 452.5 129.6)"/>
<ellipse cx="452.8" cy="129.3" rx="0.6" ry="0.5" fill="#bbb"/>
<polyline points="453.5,131.5 454.0,134.5" class="tm" />
<polygon points="484.2,125.0 491.0,120.8 494.5,121.2 496.0,124.0 495.6,128.5 488.5,131.8 485.5,131.2 484.0,128.5" class="o"  style="stroke-width:1.8"/>
<polyline points="487.5,126.5 494.5,122.8" class="tm" />
<polyline points="487.5,126.5 488.0,131.5" class="tm" />
<polyline points="490.0,124.2 491.0,129.6" class="t" />
<polyline points="492.5,123.0 493.3,128.6" class="t" />
<path d="M420.5,168.5 C419.1,169.1 414.8,171.1 412.0,172.0 C409.2,172.9 404.9,173.8 403.5,174.2" fill="none" stroke="#1c1c1c" stroke-width="6.6" stroke-linecap="round" stroke-linejoin="round"/>
<path d="M420.5,168.5 C419.1,169.1 414.8,171.1 412.0,172.0 C409.2,172.9 404.9,173.8 403.5,174.2" fill="none" stroke="#f6f6f6" stroke-width="3.1999999999999997" stroke-linecap="round" stroke-linejoin="round"/>
<polygon points="389.5,177.5 394.0,173.8 399.5,174.5 402.0,178.0 401.0,184.5 398.0,190.5 393.5,193.3 389.5,191.5 388.3,186.0" class="o"  style="stroke-width:1.9"/>
<polyline points="391.5,179.5 397.0,181.0 398.0,190.0" class="tm" />
<polygon points="390.0,181.0 393.5,182.0 393.6,189.0 390.2,188.0" class="g2" />
<path d="M395.5,180.5 C396.5,182.4 399.0,188.2 401.7,191.7 C404.4,195.2 407.8,198.6 411.7,201.7 C415.6,204.8 419.4,206.7 425.0,210.0 C430.6,213.3 438.6,218.2 445.0,221.7 C451.4,225.2 458.0,228.3 463.3,230.8 C468.6,233.3 472.2,234.7 476.7,236.8 C481.1,238.9 485.0,240.8 490.0,243.5 C495.0,246.2 501.7,250.4 506.7,253.3 C511.7,256.2 515.0,258.4 520.0,260.8 C525.0,263.2 531.7,265.9 536.7,267.6 C541.7,269.3 545.0,269.9 550.0,270.9 C555.0,271.8 562.2,272.9 566.7,273.3 C571.2,273.7 573.7,273.4 577.0,273.0 C580.3,272.6 585.1,271.2 586.7,270.8" fill="none" stroke="#1c1c1c" stroke-width="9.4" stroke-linecap="round" stroke-linejoin="round"/>
<path d="M395.5,180.5 C396.5,182.4 399.0,188.2 401.7,191.7 C404.4,195.2 407.8,198.6 411.7,201.7 C415.6,204.8 419.4,206.7 425.0,210.0 C430.6,213.3 438.6,218.2 445.0,221.7 C451.4,225.2 458.0,228.3 463.3,230.8 C468.6,233.3 472.2,234.7 476.7,236.8 C481.1,238.9 485.0,240.8 490.0,243.5 C495.0,246.2 501.7,250.4 506.7,253.3 C511.7,256.2 515.0,258.4 520.0,260.8 C525.0,263.2 531.7,265.9 536.7,267.6 C541.7,269.3 545.0,269.9 550.0,270.9 C555.0,271.8 562.2,272.9 566.7,273.3 C571.2,273.7 573.7,273.4 577.0,273.0 C580.3,272.6 585.1,271.2 586.7,270.8" fill="none" stroke="#f6f6f6" stroke-width="5.6000000000000005" stroke-linecap="round" stroke-linejoin="round"/>
<polyline points="409.5,196.0 415.5,204.8" class="tm" />
<polyline points="437.0,213.2 433.0,222.2" class="t" />
<path d="M586.7,271.5 C588.2,271.0 593.1,269.6 596.0,268.5 C598.9,267.4 601.7,266.0 604.0,265.0 C606.3,264.0 609.0,262.9 610.0,262.5" fill="none" stroke="#1c1c1c" stroke-width="4.6" stroke-linecap="round" stroke-linejoin="round"/>
<path d="M586.7,271.5 C588.2,271.0 593.1,269.6 596.0,268.5 C598.9,267.4 601.7,266.0 604.0,265.0 C606.3,264.0 609.0,262.9 610.0,262.5" fill="none" stroke="#f6f6f6" stroke-width="1.5999999999999996" stroke-linecap="round" stroke-linejoin="round"/>
<path d="M586.7,270.2 C588.1,269.4 592.2,266.9 595.0,265.5 C597.8,264.1 600.8,262.8 603.3,261.5 C605.8,260.2 607.8,258.9 610.0,257.8 C612.2,256.8 614.4,255.9 616.7,255.2 C619.0,254.4 621.8,253.8 624.0,253.3 C626.2,252.8 629.0,252.2 630.0,252.0" fill="none" stroke="#1c1c1c" stroke-width="4.8" stroke-linecap="round" stroke-linejoin="round"/>
<path d="M586.7,270.2 C588.1,269.4 592.2,266.9 595.0,265.5 C597.8,264.1 600.8,262.8 603.3,261.5 C605.8,260.2 607.8,258.9 610.0,257.8 C612.2,256.8 614.4,255.9 616.7,255.2 C619.0,254.4 621.8,253.8 624.0,253.3 C626.2,252.8 629.0,252.2 630.0,252.0" fill="none" stroke="#f6f6f6" stroke-width="1.7999999999999998" stroke-linecap="round" stroke-linejoin="round"/>
<polyline points="586.0,266.5 588.5,275.2" class="tm" />
<path d="M629.5,249.5 C632,247 637,246.2 638.8,248.5 C640,250.5 639.5,253.5 637.5,255 C635,256.3 631.5,255.8 629.8,254.5 Z" class="o"  style="stroke-width:1.7"/>
<polygon points="599.5,246.5 607.5,243.8 612.5,246.0 613.5,250.0 611.0,253.8 603.0,255.8 600.0,253.5" class="od" />
<polyline points="601.5,248.0 608.5,246.0 611.5,248.2" class="t"  style="stroke:#bbb"/>
<polyline points="603.0,251.5 610.0,249.8" class="t"  style="stroke:#aaa"/>
<path d="M612.5,249.0 C613.2,248.8 615.7,247.6 617.0,247.6 C618.3,247.6 619.9,248.2 620.5,249.0 C621.1,249.8 620.5,251.9 620.5,252.5" fill="none" stroke="#1c1c1c" stroke-width="3.6" stroke-linecap="round" stroke-linejoin="round"/>
<path d="M612.5,249.0 C613.2,248.8 615.7,247.6 617.0,247.6 C618.3,247.6 619.9,248.2 620.5,249.0 C621.1,249.8 620.5,251.9 620.5,252.5" fill="none" stroke="#f6f6f6" stroke-width="0.8999999999999999" stroke-linecap="round" stroke-linejoin="round"/>
<polyline points="624.5,246.8 627.5,250.0" class="tm" />
<polygon points="603.0,265.5 609.5,263.0 611.5,265.0 611.2,272.0 605.5,274.8 603.2,272.5" class="m"  style="stroke-width:1.5"/>
<polyline points="605.5,266.8 605.8,274.5" class="tm" />
<polyline points="608.0,265.5 608.5,273.0" class="t" />
<rect x="603.2" y="273.5" width="3" height="2.6" fill="#1c1c1c"/>
<polygon points="467.5,229.5 472.0,227.2 483.0,232.5 483.5,236.5 478.0,239.0" class="o"  style="stroke-width:1.7"/>
<polygon points="466.8,243.0 471.0,240.2 481.5,246.0 481.8,249.2 477.5,250.4 468.0,246.0" class="od" />
<polyline points="470.0,243.0 479.0,247.5" class="t"  style="stroke:#bbb"/>
<path d="M463.3,230.8 C465.5,231.8 472.2,234.7 476.7,236.8 C481.1,238.9 485.0,240.8 490.0,243.5 C495.0,246.2 503.9,251.7 506.7,253.3" fill="none" stroke="#1c1c1c" stroke-width="9.4" stroke-linecap="butt" stroke-linejoin="round"/>
<path d="M463.3,230.8 C465.5,231.8 472.2,234.7 476.7,236.8 C481.1,238.9 485.0,240.8 490.0,243.5 C495.0,246.2 503.9,251.7 506.7,253.3" fill="none" stroke="#f6f6f6" stroke-width="5.6000000000000005" stroke-linecap="butt" stroke-linejoin="round"/>
<polygon points="470.5,228.0 475.0,226.0 485.0,231.5 481.0,234.5" class="o"  style="stroke-width:1.5"/>
<rect x="402.5" y="203.5" width="6.0" height="4.2" rx="1.3" fill="#1c1c1c" transform="rotate(18 405.5 205.6)"/>
<ellipse cx="405.8" cy="205.3" rx="0.5" ry="0.4" fill="#bbb"/>
<rect x="428.7" y="221.1" width="6.0" height="4.2" rx="1.3" fill="#1c1c1c" transform="rotate(18 431.7 223.2)"/>
<ellipse cx="432.0" cy="222.9" rx="0.5" ry="0.4" fill="#bbb"/>
<rect x="487.3" y="250.2" width="6.0" height="4.2" rx="1.3" fill="#1c1c1c" transform="rotate(18 490.3 252.3)"/>
<ellipse cx="490.6" cy="252.0" rx="0.5" ry="0.4" fill="#bbb"/>
<polyline points="460.0,226.0 458.5,232.0" class="t" />
<path d="M797.0,426.0 C796.1,427.2 793.1,430.7 791.5,433.0 C789.9,435.3 788.6,437.7 787.6,440.0 C786.6,442.3 785.7,444.8 785.3,447.0 C784.9,449.2 784.8,450.8 785.0,453.0 C785.2,455.2 785.6,457.9 786.3,460.0 C786.9,462.1 787.7,463.9 788.9,465.9 C790.1,467.9 791.8,470.1 793.5,471.8 C795.2,473.5 797.2,475.1 799.3,476.3 C801.4,477.5 803.9,478.6 806.0,479.2 C808.1,479.8 810.0,480.1 812.2,480.2 C814.4,480.3 816.7,480.2 819.0,479.9 C821.3,479.6 824.8,478.5 826.0,478.2" fill="none" stroke="#1c1c1c" stroke-width="10" stroke-linecap="round" stroke-linejoin="round"/>
<path d="M797.0,426.0 C796.1,427.2 793.1,430.7 791.5,433.0 C789.9,435.3 788.6,437.7 787.6,440.0 C786.6,442.3 785.7,444.8 785.3,447.0 C784.9,449.2 784.8,450.8 785.0,453.0 C785.2,455.2 785.6,457.9 786.3,460.0 C786.9,462.1 787.7,463.9 788.9,465.9 C790.1,467.9 791.8,470.1 793.5,471.8 C795.2,473.5 797.2,475.1 799.3,476.3 C801.4,477.5 803.9,478.6 806.0,479.2 C808.1,479.8 810.0,480.1 812.2,480.2 C814.4,480.3 816.7,480.2 819.0,479.9 C821.3,479.6 824.8,478.5 826.0,478.2" fill="none" stroke="#f6f6f6" stroke-width="6.2" stroke-linecap="round" stroke-linejoin="round"/>
<path d="M808.5,434.0 C808.7,435.9 809.2,441.6 809.6,445.2 C810.0,448.8 810.2,452.9 810.9,455.6 C811.5,458.3 812.4,459.8 813.5,461.5 C814.6,463.2 815.9,464.6 817.4,465.9 C818.9,467.2 820.6,468.4 822.5,469.3 C824.4,470.2 827.5,471.1 828.5,471.5" fill="none" stroke="#1c1c1c" stroke-width="5.6" stroke-linecap="round" stroke-linejoin="round"/>
<path d="M808.5,434.0 C808.7,435.9 809.2,441.6 809.6,445.2 C810.0,448.8 810.2,452.9 810.9,455.6 C811.5,458.3 812.4,459.8 813.5,461.5 C814.6,463.2 815.9,464.6 817.4,465.9 C818.9,467.2 820.6,468.4 822.5,469.3 C824.4,470.2 827.5,471.1 828.5,471.5" fill="none" stroke="#f6f6f6" stroke-width="2.1999999999999997" stroke-linecap="round" stroke-linejoin="round"/>
<path d="M826.0,476.5 C826.8,476.0 829.4,474.3 831.0,473.6 C832.6,472.9 833.9,472.5 835.6,472.4 C837.3,472.3 839.3,472.4 841.0,472.8 C842.7,473.2 844.5,474.0 845.9,475.0 C847.3,476.0 848.9,478.0 849.5,478.6" fill="none" stroke="#1c1c1c" stroke-width="5.8" stroke-linecap="round" stroke-linejoin="round"/>
<path d="M826.0,476.5 C826.8,476.0 829.4,474.3 831.0,473.6 C832.6,472.9 833.9,472.5 835.6,472.4 C837.3,472.3 839.3,472.4 841.0,472.8 C842.7,473.2 844.5,474.0 845.9,475.0 C847.3,476.0 848.9,478.0 849.5,478.6" fill="none" stroke="#f6f6f6" stroke-width="2.4" stroke-linecap="round" stroke-linejoin="round"/>
<polyline points="824.5,473.5 827.0,481.5" class="tm" />
<rect x="820.5" y="480.9" width="5.6" height="3.8" rx="1.3" fill="#1c1c1c" transform="rotate(18 823.3 482.8)"/>
<ellipse cx="823.6" cy="482.5" rx="0.3" ry="0.3" fill="#bbb"/>
<polygon points="807.5,436.5 814.0,434.0 822.0,437.5 832.0,441.5 842.0,444.5 849.5,448.0 850.3,455.5 849.5,461.0 845.0,463.2 836.0,460.5 831.5,456.5 826.0,455.0 821.0,451.5 812.5,448.5 808.0,445.5" class="od" />
<polyline points="812.0,438.5 820.0,441.5 821.0,450.0" class="t"  style="stroke:#c8c8c8"/>
<polyline points="824.0,441.0 830.0,443.8 831.5,455.0" class="t"  style="stroke:#c8c8c8"/>
<polyline points="835.0,445.0 842.0,447.5 843.0,460.5" class="t"  style="stroke:#c8c8c8"/>
<polyline points="810.0,443.0 818.0,446.5" class="t"  style="stroke:#999"/>
<polygon points="826.5,444.0 833.0,446.5 833.5,452.0 827.0,449.5" class="m"  style="stroke-width:0.8"/>
<polygon points="838.0,448.5 844.5,451.0 845.0,458.0 838.5,455.5" class="m"  style="stroke-width:0.8"/>
<path d="M832,450.5 C829,452.5 828.5,457 830.5,460.5 C832.5,463.5 836,464 838,462" class="tk" style="fill:none"/>
<path d="M824.0,462.0 C824.8,461.4 827.2,459.4 829.0,458.5 C830.8,457.6 834.0,456.8 835.0,456.5" fill="none" stroke="#1c1c1c" stroke-width="4.4" stroke-linecap="round" stroke-linejoin="round"/>
<path d="M824.0,462.0 C824.8,461.4 827.2,459.4 829.0,458.5 C830.8,457.6 834.0,456.8 835.0,456.5" fill="none" stroke="#f6f6f6" stroke-width="1.4000000000000004" stroke-linecap="round" stroke-linejoin="round"/>
<path d="M737.0,327.0 C735.7,326.8 731.3,325.9 729.0,325.8 C726.7,325.7 724.8,325.8 723.0,326.2 C721.2,326.6 719.8,327.4 718.5,328.5 C717.2,329.6 715.9,331.0 715.0,332.5 C714.1,334.0 713.8,335.8 713.3,337.5 C712.8,339.2 712.7,341.2 712.0,342.5 C711.3,343.8 710.3,344.7 709.0,345.4 C707.7,346.1 705.9,346.4 704.0,346.5 C702.1,346.6 699.3,346.2 697.5,346.3 C695.7,346.4 694.3,346.4 693.0,347.0 C691.7,347.6 690.5,348.9 689.8,350.2 C689.1,351.5 688.9,353.1 689.0,355.0 C689.1,356.9 689.5,359.8 690.2,361.5 C691.0,363.2 692.2,364.3 693.5,365.5 C694.8,366.7 695.6,367.2 698.1,368.7 C700.6,370.2 705.0,372.1 708.5,374.3 C712.0,376.5 715.4,379.4 718.9,381.7 C722.4,384.0 725.4,386.0 729.3,388.4 C733.2,390.8 737.5,393.5 742.2,396.0 C747.0,398.5 755.2,402.2 757.8,403.5" fill="none" stroke="#1c1c1c" stroke-width="5.8" stroke-linecap="round" stroke-linejoin="round"/>
<path d="M737.0,327.0 C735.7,326.8 731.3,325.9 729.0,325.8 C726.7,325.7 724.8,325.8 723.0,326.2 C721.2,326.6 719.8,327.4 718.5,328.5 C717.2,329.6 715.9,331.0 715.0,332.5 C714.1,334.0 713.8,335.8 713.3,337.5 C712.8,339.2 712.7,341.2 712.0,342.5 C711.3,343.8 710.3,344.7 709.0,345.4 C707.7,346.1 705.9,346.4 704.0,346.5 C702.1,346.6 699.3,346.2 697.5,346.3 C695.7,346.4 694.3,346.4 693.0,347.0 C691.7,347.6 690.5,348.9 689.8,350.2 C689.1,351.5 688.9,353.1 689.0,355.0 C689.1,356.9 689.5,359.8 690.2,361.5 C691.0,363.2 692.2,364.3 693.5,365.5 C694.8,366.7 695.6,367.2 698.1,368.7 C700.6,370.2 705.0,372.1 708.5,374.3 C712.0,376.5 715.4,379.4 718.9,381.7 C722.4,384.0 725.4,386.0 729.3,388.4 C733.2,390.8 737.5,393.5 742.2,396.0 C747.0,398.5 755.2,402.2 757.8,403.5" fill="none" stroke="#f6f6f6" stroke-width="2.4" stroke-linecap="round" stroke-linejoin="round"/>
<polyline points="712.2,339.2 717.5,341.0" class="tm" />
<polygon points="734.0,325.5 739.5,321.2 745.0,322.6 750.0,321.0 754.5,319.2 757.0,317.6 762.0,318.2 764.0,321.0 763.0,325.0 758.5,327.5 757.0,331.2 752.5,333.0 749.5,330.5 744.5,333.5 738.5,333.8 734.8,331.0" class="od" />
<polyline points="740.0,324.5 746.0,326.0 752.0,323.0 757.5,321.0" class="t"  style="stroke:#cfcfcf"/>
<polyline points="741.0,330.0 747.0,328.5 753.0,326.5" class="t"  style="stroke:#aaa"/>
<polygon points="746.0,324.2 750.5,322.8 751.0,327.0 746.5,328.4" class="m"  style="stroke-width:0.7"/>
<polyline points="739.0,327.5 745.0,329.5" class="t"  style="stroke:#eee;stroke-width:1.3"/>
<polyline points="753.5,323.5 758.5,321.5 760.5,323.5" class="t"  style="stroke:#eee;stroke-width:1.4"/>
<polyline points="755.5,327.5 759.5,325.5" class="t"  style="stroke:#ddd;stroke-width:1.1"/>
<rect x="703.5" y="350.7" width="6.0" height="4.2" rx="1.3" fill="#1c1c1c" transform="rotate(18 706.5 352.8)"/>
<ellipse cx="706.8" cy="352.5" rx="0.5" ry="0.4" fill="#bbb"/>
<rect x="698.5" y="372.9" width="6.0" height="4.2" rx="1.3" fill="#1c1c1c" transform="rotate(18 701.5 375)"/>
<ellipse cx="701.8" cy="374.7" rx="0.5" ry="0.4" fill="#bbb"/>
<rect x="723.8" y="391.4" width="6.0" height="4.2" rx="1.3" fill="#1c1c1c" transform="rotate(18 726.8 393.5)"/>
<ellipse cx="727.1" cy="393.2" rx="0.5" ry="0.4" fill="#bbb"/>
<polyline points="704.0,346.5 705.0,351.0" class="tm" />
<polyline points="703.5,371.5 702.3,374.0" class="tm" />
<polyline points="729.5,388.5 727.8,392.0" class="tm" />
<polygon points="736.0,401.0 741.5,397.5 760.0,405.0 783.5,415.0 784.5,424.5 783.0,430.0 781.5,440.0 776.0,442.5 765.5,437.0 764.0,431.0 751.0,425.0 737.5,418.5 735.8,410.0" class="o"  style="stroke-width:1.6"/>
<polyline points="736.2,403.0 760.0,414.0 783.5,424.0" class="tm" />
<polyline points="760.0,414.0 760.5,422.0" class="t" />
<path d="M740,407.5 C742.5,405.5 746,407 745.5,410 C745,412.5 741,412.8 739.5,411" class="tm" />
<path d="M765,418.5 C767.5,416.8 771,418 770.5,421 C770,423.5 766,424 764.5,422" class="tm" />
<polygon points="748.0,410.5 755.0,413.5 755.0,418.5 748.5,416.0" class="d" />
<polygon points="771.0,421.0 778.0,424.0 778.0,429.0 771.5,426.5" class="d" />
<polyline points="745.0,418.5 763.5,427.0" class="t" />
<polyline points="767.0,431.0 780.0,436.5" class="t" />
<path d="M763.0,425.5 C764.2,426.2 767.7,428.5 770.0,430.0 C772.3,431.5 774.7,433.0 777.0,434.3 C779.3,435.6 781.8,436.8 784.0,437.6 C786.2,438.4 789.0,439.0 790.0,439.3" fill="none" stroke="#1c1c1c" stroke-width="9" stroke-linecap="round" stroke-linejoin="round"/>
<path d="M763.0,425.5 C764.2,426.2 767.7,428.5 770.0,430.0 C772.3,431.5 774.7,433.0 777.0,434.3 C779.3,435.6 781.8,436.8 784.0,437.6 C786.2,438.4 789.0,439.0 790.0,439.3" fill="none" stroke="#f6f6f6" stroke-width="5.2" stroke-linecap="round" stroke-linejoin="round"/>
<path d="M791.5,433.0 C790.9,434.2 788.6,437.7 787.6,440.0 C786.6,442.3 785.7,444.8 785.3,447.0 C784.9,449.2 784.8,450.8 785.0,453.0 C785.2,455.2 786.1,458.8 786.3,460.0" fill="none" stroke="#1c1c1c" stroke-width="10" stroke-linecap="butt" stroke-linejoin="round"/>
<path d="M791.5,433.0 C790.9,434.2 788.6,437.7 787.6,440.0 C786.6,442.3 785.7,444.8 785.3,447.0 C784.9,449.2 784.8,450.8 785.0,453.0 C785.2,455.2 786.1,458.8 786.3,460.0" fill="none" stroke="#f6f6f6" stroke-width="6.2" stroke-linecap="butt" stroke-linejoin="round"/>
<polygon points="742.5,392.0 747.0,388.8 763.0,396.0 763.3,402.5 758.5,405.2 742.8,398.5" class="o"  style="stroke-width:1.7"/>
<polyline points="742.8,392.2 758.5,399.0 763.0,396.2" class="tm" />
<polyline points="758.5,399.0 758.6,405.0" class="tm" />
<path d="M813.0,431.0 C813.1,429.8 813.1,426.0 813.8,424.0 C814.5,422.0 815.3,420.4 817.0,419.0 C818.7,417.6 821.5,416.6 824.0,415.5 C826.5,414.4 829.3,413.5 832.0,412.5 C834.7,411.5 837.5,410.7 840.0,409.5 C842.5,408.3 845.8,406.2 847.0,405.5" fill="none" stroke="#1c1c1c" stroke-width="9" stroke-linecap="round" stroke-linejoin="round"/>
<path d="M813.0,431.0 C813.1,429.8 813.1,426.0 813.8,424.0 C814.5,422.0 815.3,420.4 817.0,419.0 C818.7,417.6 821.5,416.6 824.0,415.5 C826.5,414.4 829.3,413.5 832.0,412.5 C834.7,411.5 837.5,410.7 840.0,409.5 C842.5,408.3 845.8,406.2 847.0,405.5" fill="none" stroke="#f6f6f6" stroke-width="5.2" stroke-linecap="round" stroke-linejoin="round"/>
<path d="M803.5,424.5 C803.8,423.4 804.1,419.9 805.0,418.0 C805.9,416.1 807.3,414.4 809.0,413.0 C810.7,411.6 812.8,410.5 815.0,409.5 C817.2,408.5 819.5,407.8 822.0,407.0 C824.5,406.2 827.3,405.3 830.0,404.5 C832.7,403.7 835.4,402.7 838.0,402.0 C840.6,401.3 844.6,400.8 845.9,400.5" fill="none" stroke="#1c1c1c" stroke-width="9" stroke-linecap="round" stroke-linejoin="round"/>
<path d="M803.5,424.5 C803.8,423.4 804.1,419.9 805.0,418.0 C805.9,416.1 807.3,414.4 809.0,413.0 C810.7,411.6 812.8,410.5 815.0,409.5 C817.2,408.5 819.5,407.8 822.0,407.0 C824.5,406.2 827.3,405.3 830.0,404.5 C832.7,403.7 835.4,402.7 838.0,402.0 C840.6,401.3 844.6,400.8 845.9,400.5" fill="none" stroke="#f6f6f6" stroke-width="5.2" stroke-linecap="round" stroke-linejoin="round"/>
<path d="M796.5,386.0 C796.1,384.8 794.8,381.2 794.3,379.0 C793.8,376.8 793.2,374.5 793.2,372.5 C793.2,370.5 793.6,368.4 794.5,367.0 C795.4,365.6 797.0,364.5 798.5,364.0 C800.0,363.5 801.9,363.6 803.5,364.2 C805.1,364.8 806.6,366.1 808.0,367.5 C809.4,368.9 810.8,370.8 812.0,372.5 C813.2,374.2 814.1,376.2 815.0,378.0 C815.9,379.8 816.8,382.6 817.2,383.5" fill="none" stroke="#1c1c1c" stroke-width="5.2" stroke-linecap="round" stroke-linejoin="round"/>
<path d="M796.5,386.0 C796.1,384.8 794.8,381.2 794.3,379.0 C793.8,376.8 793.2,374.5 793.2,372.5 C793.2,370.5 793.6,368.4 794.5,367.0 C795.4,365.6 797.0,364.5 798.5,364.0 C800.0,363.5 801.9,363.6 803.5,364.2 C805.1,364.8 806.6,366.1 808.0,367.5 C809.4,368.9 810.8,370.8 812.0,372.5 C813.2,374.2 814.1,376.2 815.0,378.0 C815.9,379.8 816.8,382.6 817.2,383.5" fill="none" stroke="#f6f6f6" stroke-width="2.0" stroke-linecap="round" stroke-linejoin="round"/>
<path d="M801.9,385.0 C801.6,383.8 800.6,380.1 800.3,378.0 C800.0,375.9 799.7,373.8 800.0,372.5 C800.3,371.2 801.2,370.2 802.0,370.0 C802.8,369.8 803.9,370.0 805.0,371.0 C806.1,372.0 807.6,374.2 808.5,376.0 C809.4,377.8 810.2,381.0 810.5,382.0" fill="none" stroke="#1c1c1c" stroke-width="3.6" stroke-linecap="round" stroke-linejoin="round"/>
<path d="M801.9,385.0 C801.6,383.8 800.6,380.1 800.3,378.0 C800.0,375.9 799.7,373.8 800.0,372.5 C800.3,371.2 801.2,370.2 802.0,370.0 C802.8,369.8 803.9,370.0 805.0,371.0 C806.1,372.0 807.6,374.2 808.5,376.0 C809.4,377.8 810.2,381.0 810.5,382.0" fill="none" stroke="#f6f6f6" stroke-width="0.8999999999999999" stroke-linecap="round" stroke-linejoin="round"/>
<path d="M779.5,408.0 C780.2,406.7 782.2,402.1 783.7,400.0 C785.2,397.9 786.8,396.6 788.5,395.2 C790.2,393.8 792.0,392.6 794.0,391.5 C796.0,390.4 798.3,389.2 800.5,388.4 C802.7,387.6 804.8,387.1 807.0,386.6 C809.2,386.1 811.3,385.6 813.5,385.4 C815.7,385.2 817.8,385.2 820.0,385.4 C822.2,385.6 824.3,385.8 826.5,386.5 C828.7,387.2 831.1,388.3 833.0,389.4 C834.9,390.5 836.5,391.6 838.0,393.0 C839.5,394.4 840.7,395.9 842.0,397.5 C843.3,399.1 845.2,401.6 845.9,402.4" fill="none" stroke="#1c1c1c" stroke-width="9.4" stroke-linecap="round" stroke-linejoin="round"/>
<path d="M779.5,408.0 C780.2,406.7 782.2,402.1 783.7,400.0 C785.2,397.9 786.8,396.6 788.5,395.2 C790.2,393.8 792.0,392.6 794.0,391.5 C796.0,390.4 798.3,389.2 800.5,388.4 C802.7,387.6 804.8,387.1 807.0,386.6 C809.2,386.1 811.3,385.6 813.5,385.4 C815.7,385.2 817.8,385.2 820.0,385.4 C822.2,385.6 824.3,385.8 826.5,386.5 C828.7,387.2 831.1,388.3 833.0,389.4 C834.9,390.5 836.5,391.6 838.0,393.0 C839.5,394.4 840.7,395.9 842.0,397.5 C843.3,399.1 845.2,401.6 845.9,402.4" fill="none" stroke="#f6f6f6" stroke-width="5.6000000000000005" stroke-linecap="round" stroke-linejoin="round"/>
<path d="M765.8,383.2 C766.2,382.8 767.1,381.1 768.1,380.6 C769.1,380.1 770.7,380.2 772.0,380.4 C773.3,380.6 774.6,381.2 775.9,382.0 C777.1,382.8 778.2,384.1 779.5,385.4 C780.8,386.7 782.3,388.4 783.7,389.6 C785.1,390.8 787.3,392.3 788.0,392.8" fill="none" stroke="#1c1c1c" stroke-width="3.4" stroke-linecap="round" stroke-linejoin="round"/>
<path d="M765.8,383.2 C766.2,382.8 767.1,381.1 768.1,380.6 C769.1,380.1 770.7,380.2 772.0,380.4 C773.3,380.6 774.6,381.2 775.9,382.0 C777.1,382.8 778.2,384.1 779.5,385.4 C780.8,386.7 782.3,388.4 783.7,389.6 C785.1,390.8 787.3,392.3 788.0,392.8" fill="none" stroke="#f6f6f6" stroke-width="0.7999999999999998" stroke-linecap="round" stroke-linejoin="round"/>
<path d="M845.9,402.6 C847.2,402.1 850.9,400.5 853.5,399.4 C856.1,398.3 858.9,397.1 861.5,396.0 C864.1,394.9 866.4,393.8 869.0,392.7 C871.6,391.6 874.7,390.3 877.0,389.4 C879.3,388.4 881.0,387.7 883.0,387.0 C885.0,386.3 888.0,385.3 889.0,385.0" fill="none" stroke="#1c1c1c" stroke-width="5.6" stroke-linecap="round" stroke-linejoin="round"/>
<path d="M845.9,402.6 C847.2,402.1 850.9,400.5 853.5,399.4 C856.1,398.3 858.9,397.1 861.5,396.0 C864.1,394.9 866.4,393.8 869.0,392.7 C871.6,391.6 874.7,390.3 877.0,389.4 C879.3,388.4 881.0,387.7 883.0,387.0 C885.0,386.3 888.0,385.3 889.0,385.0" fill="none" stroke="#f6f6f6" stroke-width="2.1999999999999997" stroke-linecap="round" stroke-linejoin="round"/>
<rect x="808.5" y="380.5" width="5.5" height="4.4" rx="1" fill="#1c1c1c" transform="rotate(20 811 382.5)"/>
<rect x="839" y="393.8" width="6" height="4.6" rx="1" fill="#1c1c1c" transform="rotate(28 842 396)"/>
<polyline points="811.5,384.5 812.5,390.0" class="tm" />
<polyline points="843.0,398.5 842.0,408.0" class="tm" />
<polyline points="846.0,398.0 848.5,407.5" class="tm" />
<path d="M866.7,398.4 C866.9,399.5 867.4,402.8 868.0,405.0 C868.6,407.2 869.5,409.8 870.6,411.5 C871.7,413.2 873.0,414.1 874.5,415.0 C876.0,415.9 877.9,416.5 879.6,416.8 C881.4,417.1 883.3,417.2 885.0,417.0 C886.7,416.8 888.7,416.1 890.0,415.4 C891.3,414.6 892.1,413.6 893.0,412.5 C893.9,411.4 894.5,410.2 895.2,408.9 C896.0,407.6 896.6,406.1 897.5,404.8 C898.4,403.5 899.1,402.3 900.4,401.1 C901.6,399.9 903.3,398.7 905.0,397.8 C906.7,396.9 908.7,396.4 910.7,395.9 C912.7,395.4 914.8,395.1 917.0,394.8 C919.2,394.6 921.5,394.4 923.7,394.4 C925.9,394.3 927.6,394.5 930.0,394.5 C932.4,394.5 936.7,394.5 938.0,394.5" fill="none" stroke="#1c1c1c" stroke-width="4.4" stroke-linecap="round" stroke-linejoin="round"/>
<path d="M866.7,398.4 C866.9,399.5 867.4,402.8 868.0,405.0 C868.6,407.2 869.5,409.8 870.6,411.5 C871.7,413.2 873.0,414.1 874.5,415.0 C876.0,415.9 877.9,416.5 879.6,416.8 C881.4,417.1 883.3,417.2 885.0,417.0 C886.7,416.8 888.7,416.1 890.0,415.4 C891.3,414.6 892.1,413.6 893.0,412.5 C893.9,411.4 894.5,410.2 895.2,408.9 C896.0,407.6 896.6,406.1 897.5,404.8 C898.4,403.5 899.1,402.3 900.4,401.1 C901.6,399.9 903.3,398.7 905.0,397.8 C906.7,396.9 908.7,396.4 910.7,395.9 C912.7,395.4 914.8,395.1 917.0,394.8 C919.2,394.6 921.5,394.4 923.7,394.4 C925.9,394.3 927.6,394.5 930.0,394.5 C932.4,394.5 936.7,394.5 938.0,394.5" fill="none" stroke="#d4d4d4" stroke-width="1.1000000000000005" stroke-linecap="round" stroke-linejoin="round"/>
<path d="M876.5,394.5 C876.1,395.4 875.0,398.1 874.4,400.0 C873.8,401.9 873.2,404.2 873.1,406.0 C873.0,407.8 872.9,409.5 873.5,411.0 C874.1,412.5 875.2,413.8 876.5,415.0 C877.8,416.2 880.2,417.9 881.0,418.5" fill="none" stroke="#1c1c1c" stroke-width="4.4" stroke-linecap="round" stroke-linejoin="round"/>
<path d="M876.5,394.5 C876.1,395.4 875.0,398.1 874.4,400.0 C873.8,401.9 873.2,404.2 873.1,406.0 C873.0,407.8 872.9,409.5 873.5,411.0 C874.1,412.5 875.2,413.8 876.5,415.0 C877.8,416.2 880.2,417.9 881.0,418.5" fill="none" stroke="#d4d4d4" stroke-width="1.1000000000000005" stroke-linecap="round" stroke-linejoin="round"/>
<path d="M884.8,434.8 C885.3,434.1 887.0,432.1 888.0,430.5 C889.0,428.9 889.8,427.2 890.5,425.5 C891.2,423.8 891.6,421.5 892.0,420.0 C892.4,418.5 892.3,418.2 892.6,416.7 C892.9,415.2 893.8,411.9 894.0,411.0" fill="none" stroke="#1c1c1c" stroke-width="4.4" stroke-linecap="round" stroke-linejoin="round"/>
<path d="M884.8,434.8 C885.3,434.1 887.0,432.1 888.0,430.5 C889.0,428.9 889.8,427.2 890.5,425.5 C891.2,423.8 891.6,421.5 892.0,420.0 C892.4,418.5 892.3,418.2 892.6,416.7 C892.9,415.2 893.8,411.9 894.0,411.0" fill="none" stroke="#d4d4d4" stroke-width="1.1000000000000005" stroke-linecap="round" stroke-linejoin="round"/>
<path d="M885.5,435.5 C886.8,435.1 890.5,433.6 893.0,433.0 C895.5,432.4 897.7,432.1 900.4,432.0 C903.1,431.9 906.0,432.4 909.0,432.6 C912.0,432.8 916.0,433.4 918.5,433.3 C921.0,433.2 922.3,432.6 924.0,432.0 C925.7,431.4 927.5,430.6 928.9,429.6 C930.3,428.6 931.4,427.3 932.5,426.0 C933.6,424.7 934.6,423.4 935.4,421.9 C936.2,420.4 936.9,418.7 937.3,417.0 C937.7,415.3 938.0,413.1 938.0,411.5 C938.0,409.9 937.7,408.6 937.3,407.5 C936.9,406.4 936.3,405.6 935.4,405.0 C934.5,404.4 933.3,404.0 932.0,403.8 C930.7,403.6 928.3,403.7 927.6,403.7" fill="none" stroke="#1c1c1c" stroke-width="4.4" stroke-linecap="round" stroke-linejoin="round"/>
<path d="M885.5,435.5 C886.8,435.1 890.5,433.6 893.0,433.0 C895.5,432.4 897.7,432.1 900.4,432.0 C903.1,431.9 906.0,432.4 909.0,432.6 C912.0,432.8 916.0,433.4 918.5,433.3 C921.0,433.2 922.3,432.6 924.0,432.0 C925.7,431.4 927.5,430.6 928.9,429.6 C930.3,428.6 931.4,427.3 932.5,426.0 C933.6,424.7 934.6,423.4 935.4,421.9 C936.2,420.4 936.9,418.7 937.3,417.0 C937.7,415.3 938.0,413.1 938.0,411.5 C938.0,409.9 937.7,408.6 937.3,407.5 C936.9,406.4 936.3,405.6 935.4,405.0 C934.5,404.4 933.3,404.0 932.0,403.8 C930.7,403.6 928.3,403.7 927.6,403.7" fill="none" stroke="#d4d4d4" stroke-width="1.1000000000000005" stroke-linecap="round" stroke-linejoin="round"/>
<path d="M921.5,423.5 C922.2,423.0 924.6,421.4 926.0,420.5 C927.4,419.6 928.7,418.6 930.0,418.0 C931.3,417.4 933.3,416.8 934.0,416.6" fill="none" stroke="#1c1c1c" stroke-width="4.4" stroke-linecap="round" stroke-linejoin="round"/>
<path d="M921.5,423.5 C922.2,423.0 924.6,421.4 926.0,420.5 C927.4,419.6 928.7,418.6 930.0,418.0 C931.3,417.4 933.3,416.8 934.0,416.6" fill="none" stroke="#d4d4d4" stroke-width="1.1000000000000005" stroke-linecap="round" stroke-linejoin="round"/>
<path d="M884.8,437.6 C885.8,437.9 888.8,438.9 891.0,439.5 C893.2,440.1 895.6,440.7 897.8,441.3 C900.0,441.9 902.2,442.3 904.0,443.0 C905.8,443.7 907.5,444.7 908.3,445.6 C909.1,446.5 909.4,447.7 909.0,448.5 C908.6,449.3 907.9,450.1 906.0,450.6 C904.1,451.1 900.5,451.2 897.8,451.7 C895.1,452.2 892.2,453.1 890.0,453.8 C887.8,454.5 886.8,454.9 884.8,455.6 C882.8,456.3 880.1,457.2 878.0,457.8 C875.9,458.4 873.7,459.1 871.9,459.4 C870.1,459.6 868.3,459.6 867.0,459.3 C865.7,459.0 864.8,457.6 864.3,457.3" fill="none" stroke="#1c1c1c" stroke-width="4.4" stroke-linecap="round" stroke-linejoin="round"/>
<path d="M884.8,437.6 C885.8,437.9 888.8,438.9 891.0,439.5 C893.2,440.1 895.6,440.7 897.8,441.3 C900.0,441.9 902.2,442.3 904.0,443.0 C905.8,443.7 907.5,444.7 908.3,445.6 C909.1,446.5 909.4,447.7 909.0,448.5 C908.6,449.3 907.9,450.1 906.0,450.6 C904.1,451.1 900.5,451.2 897.8,451.7 C895.1,452.2 892.2,453.1 890.0,453.8 C887.8,454.5 886.8,454.9 884.8,455.6 C882.8,456.3 880.1,457.2 878.0,457.8 C875.9,458.4 873.7,459.1 871.9,459.4 C870.1,459.6 868.3,459.6 867.0,459.3 C865.7,459.0 864.8,457.6 864.3,457.3" fill="none" stroke="#d4d4d4" stroke-width="1.1000000000000005" stroke-linecap="round" stroke-linejoin="round"/>
<polygon points="898.3,409.2 906.8,406.8 907.7,410.8 899.3,413.4" class="d" />
<polygon points="937.0,419.8 941.5,418.2 944.5,420.5 944.0,425.0 939.5,426.8 936.8,424.5" class="m"  style="stroke-width:1.8"/>
<polygon points="876.2,460.5 882.0,459.0 884.0,461.0 883.5,465.0 878.5,466.8 876.0,464.5" class="m"  style="stroke-width:1.8"/>
<polygon points="899.0,451.5 905.0,450.0 907.0,452.0 906.5,456.0 901.5,457.5 899.0,455.5" class="m"  style="stroke-width:1.8"/>
<polygon points="939.0,391.5 947.0,386.6 951.0,387.0 954.2,389.6 953.8,394.2 946.0,398.2 942.0,397.6 939.2,395.2" class="od" />
<polygon points="948.5,389.8 952.6,388.6 952.6,393.0 949.0,394.6" class="m"  style="stroke:none;fill:#e8e8e8"/>
<polyline points="942.5,392.5 948.0,389.8" class="t"  style="stroke:#bbb"/>
<polyline points="944.0,393.6 944.4,396.6" class="t"  style="stroke:#999"/>
<path d="M759.0,402.5 C760.5,403.2 764.8,405.4 768.0,407.0 C771.2,408.6 774.2,409.7 778.5,411.8 C782.8,413.9 789.6,417.5 794.0,419.5 C798.4,421.5 801.5,422.7 805.0,424.0 C808.5,425.3 811.5,426.3 814.8,427.4 C818.1,428.4 821.5,429.4 825.0,430.3 C828.5,431.2 832.1,431.9 835.6,432.6 C839.1,433.3 842.6,433.9 846.0,434.3 C849.4,434.7 853.2,435.0 856.2,435.2 C859.2,435.4 861.4,435.4 864.0,435.4 C866.6,435.4 869.3,435.3 871.9,435.0 C874.5,434.7 878.3,433.8 879.6,433.6" fill="none" stroke="#1c1c1c" stroke-width="7.6" stroke-linecap="round" stroke-linejoin="round"/>
<path d="M759.0,402.5 C760.5,403.2 764.8,405.4 768.0,407.0 C771.2,408.6 774.2,409.7 778.5,411.8 C782.8,413.9 789.6,417.5 794.0,419.5 C798.4,421.5 801.5,422.7 805.0,424.0 C808.5,425.3 811.5,426.3 814.8,427.4 C818.1,428.4 821.5,429.4 825.0,430.3 C828.5,431.2 832.1,431.9 835.6,432.6 C839.1,433.3 842.6,433.9 846.0,434.3 C849.4,434.7 853.2,435.0 856.2,435.2 C859.2,435.4 861.4,435.4 864.0,435.4 C866.6,435.4 869.3,435.3 871.9,435.0 C874.5,434.7 878.3,433.8 879.6,433.6" fill="none" stroke="#f6f6f6" stroke-width="3.9999999999999996" stroke-linecap="round" stroke-linejoin="round"/>
<polyline points="877.0,431.0 879.5,437.0" class="tm" />
<polygon points="888.0,382.5 897.0,377.0 900.0,376.8 907.3,380.0 907.5,388.5 899.0,392.6 896.0,392.6 888.5,389.5" class="o"  style="stroke-width:1.8"/>
<polyline points="888.3,382.7 896.3,385.6 907.2,380.4" class="tm" />
<polyline points="896.3,385.6 896.6,392.4" class="tm" />
<polygon points="898.5,386.0 906.0,382.6 906.2,388.0 899.0,391.2" class="g" />
<polyline points="900.5,385.0 900.8,390.5" class="tm" />
<polyline points="903.0,384.0 903.3,389.4" class="tm" />
<polyline points="900.5,387.4 903.2,386.4" class="tm" />
<text transform="translate(538.8,86.4) scale(1,1.06)" font-size="11.6" class="lb">18</text>
<line x1="502.5" y1="60.0" x2="536.7" y2="76.7" class="ld"/>
<text transform="translate(330.3,142.4) scale(1,1.06)" font-size="11.6" class="lb">17</text>
<line x1="336.0" y1="148.0" x2="336.0" y2="181.5" class="ld"/>
<text transform="translate(570.8,137.6) scale(1,1.06)" font-size="11.6" class="lb">11</text>
<line x1="530.0" y1="160.0" x2="568.3" y2="137.8" class="ld"/>
<text transform="translate(657.0,170.8) scale(1,1.06)" font-size="12.5" class="lb">25</text>
<line x1="625.8" y1="187.5" x2="654.0" y2="172.5" class="ld"/>
<text transform="translate(806.3,242.2) scale(1,1.06)" font-size="11.6" class="lb">18</text>
<line x1="771.7" y1="215.8" x2="803.0" y2="232.0" class="ld"/>
<text transform="translate(883.5,302.8) scale(1,1.06)" font-size="12.5" class="lb">25</text>
<line x1="849.3" y1="320.6" x2="880.4" y2="304.0" class="ld"/>
<text transform="translate(113.5,294.8) scale(1,1.06)" font-size="11.6" class="lb">4</text>
<line x1="123.0" y1="293.0" x2="159.0" y2="311.7" class="ld"/>
<text transform="translate(210.3,329.8) scale(1,1.06)" font-size="12.5" class="lb">24</text>
<line x1="226.7" y1="320.8" x2="250.8" y2="311.7" class="ld"/>
<text transform="translate(355.3,273.2) scale(1,1.06)" font-size="11.6" class="lb">6</text>
<line x1="313.0" y1="289.0" x2="353.0" y2="270.8" class="ld"/>
<text transform="translate(307.9,322.0) scale(1,1.06)" font-size="12.5" class="lb">23</text>
<line x1="284.0" y1="304.0" x2="305.8" y2="314.0" class="ld"/>
<text transform="translate(411.5,302.6) scale(1,1.06)" font-size="11.6" class="lb">5</text>
<line x1="375.8" y1="317.5" x2="410.0" y2="300.8" class="ld"/>
<text transform="translate(468.3,341.0) scale(1,1.06)" font-size="11.6" class="lb">8</text>
<line x1="433.0" y1="357.0" x2="465.8" y2="340.0" class="ld"/>
<text transform="translate(413.5,375.9) scale(1,1.06)" font-size="12.5" class="lb">23</text>
<line x1="430.0" y1="378.0" x2="453.0" y2="391.7" class="ld"/>
<text transform="translate(276.5,377.5) scale(1,1.06)" font-size="12.5" class="lb">20</text>
<line x1="293.0" y1="367.5" x2="315.0" y2="357.5" class="ld"/>
<text transform="translate(85.5,430.6) scale(1,1.06)" font-size="11.6" class="lb">9</text>
<line x1="89.0" y1="385.8" x2="89.0" y2="416.7" class="ld"/>
<text transform="translate(354.2,431.8) scale(1,1.06)" font-size="11.6" class="lb">3</text>
<line x1="363.0" y1="431.7" x2="388.0" y2="446.7" class="ld"/>
<text transform="translate(392.0,432.5) scale(1,1.06)" font-size="12.5" class="lb">24</text>
<line x1="408.0" y1="424.0" x2="430.8" y2="414.0" class="ld"/>
<text transform="translate(612.7,335.9) scale(1,1.06)" font-size="11.6" class="lb">16</text>
<line x1="618.3" y1="341.7" x2="618.3" y2="375.8" class="ld"/>
<text transform="translate(647.0,348.1) scale(1,1.06)" font-size="11.6" class="lb">15</text>
<line x1="653.3" y1="353.0" x2="653.3" y2="394.0" class="ld"/>
<text transform="translate(945.7,349.8) scale(1,1.06)" font-size="11.6" class="lb">10</text>
<line x1="905.8" y1="376.7" x2="943.5" y2="351.2" class="ld"/>
<text transform="translate(268.5,538.8) scale(1,1.06)" font-size="11.6" class="lb">9</text>
<line x1="278.3" y1="530.8" x2="312.5" y2="513.3" class="ld"/>
<text transform="translate(382.8,601.0) scale(1,1.06)" font-size="11.6" class="lb">9</text>
<line x1="391.7" y1="594.0" x2="425.0" y2="579.7" class="ld"/>
<text transform="translate(502.0,599.5) scale(1,1.06)" font-size="12.5" class="lb">21</text>
<line x1="518.3" y1="590.8" x2="558.0" y2="571.7" class="ld"/>
<text transform="translate(552.0,556.0) scale(1,1.06)" font-size="11.6" class="lb">2</text>
<line x1="515.0" y1="527.5" x2="550.0" y2="548.0" class="ld"/>
<text transform="translate(561.5,531.8) scale(1,1.06)" font-size="12.5" class="lb">24</text>
<line x1="577.5" y1="524.0" x2="600.8" y2="513.0" class="ld"/>
<text transform="translate(656.2,522.6) scale(1,1.06)" font-size="12.5" class="lb">23</text>
<line x1="628.0" y1="501.7" x2="654.0" y2="513.0" class="ld"/>
<text transform="translate(716.2,479.2) scale(1,1.06)" font-size="11.6" class="lb">7</text>
<line x1="672.5" y1="498.0" x2="713.0" y2="476.7" class="ld"/>
<text transform="translate(776.5,514.2) scale(1,1.06)" font-size="11.6" class="lb">5</text>
<line x1="743.0" y1="531.7" x2="775.0" y2="513.0" class="ld"/>
<text transform="translate(607.0,557.6) scale(1,1.06)" font-size="11.6" class="lb">19</text>
<line x1="621.7" y1="547.5" x2="648.0" y2="535.0" class="ld"/>
<text transform="translate(845.2,551.9) scale(1,1.06)" font-size="11.6" class="lb">6</text>
<line x1="802.5" y1="574.1" x2="842.5" y2="551.4" class="ld"/>
<text transform="translate(762.0,580.0) scale(1,1.06)" font-size="12.5" class="lb">23</text>
<line x1="777.5" y1="580.8" x2="800.0" y2="595.0" class="ld"/>
<text transform="translate(741.8,639.9) scale(1,1.06)" font-size="12.5" class="lb">24</text>
<line x1="758.0" y1="630.0" x2="782.5" y2="618.0" class="ld"/>
<text transform="translate(883.0,502.2) scale(1,1.06)" font-size="11.6" class="lb">13</text>
<line x1="889.4" y1="508.0" x2="889.4" y2="539.0" class="ld"/>
<text transform="translate(965.7,505.1) scale(1,1.06)" font-size="11.6" class="lb">14</text>
<line x1="971.0" y1="511.7" x2="971.0" y2="548.0" class="ld"/>
<text transform="translate(493.7,684.1) scale(1,1.06)" font-size="11.6" class="lb">12</text>
<line x1="508.3" y1="675.0" x2="564.0" y2="646.7" class="ld"/>
<text transform="translate(627.5,737.6) scale(1,1.06)" font-size="11.6" class="lb">9</text>
<line x1="636.7" y1="730.0" x2="664.0" y2="716.7" class="ld"/>
<text transform="translate(799.7,700.1) scale(1,1.06)" font-size="11.6" class="lb">1</text>
<line x1="760.0" y1="667.0" x2="798.3" y2="692.0" class="ld"/>
<circle cx="869.5" cy="719.2" r="4.5" fill="#f44336"/>
<circle cx="869.5" cy="732.5" r="4.5" fill="#ffeb3b"/>
<circle cx="869.5" cy="745.8" r="4.5" fill="#4caf50"/>
</g>
</svg>
</body></html>
